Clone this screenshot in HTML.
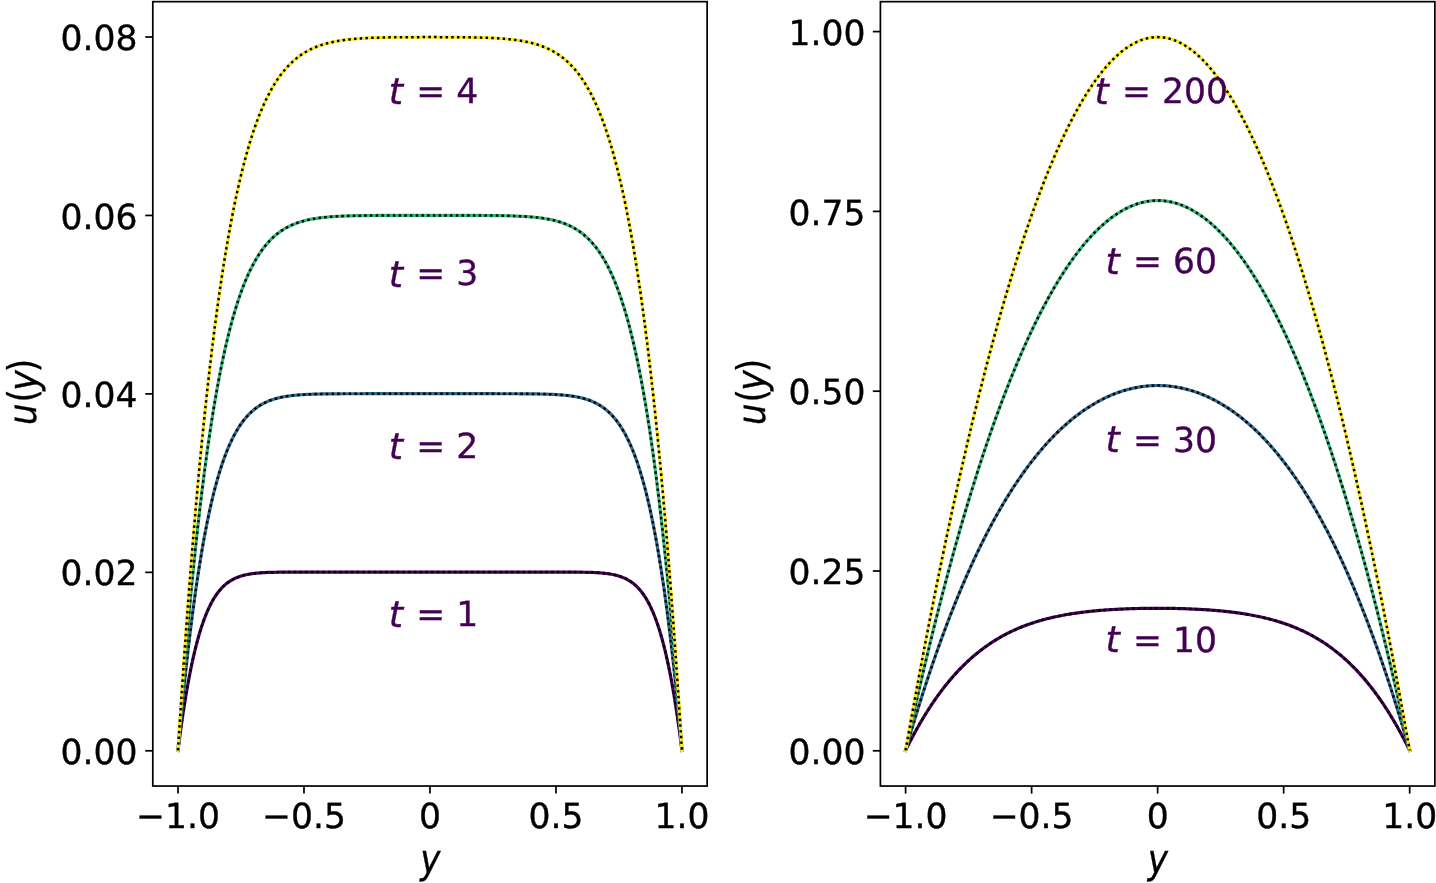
<!DOCTYPE html>
<html lang="en"><head><meta charset="utf-8"><title>u(y) velocity profiles</title>
<style>
html,body{margin:0;padding:0;background:#fff;}
body{width:1436px;height:883px;overflow:hidden;}
svg{display:block;}
text{text-rendering:geometricPrecision;stroke:#000;stroke-width:0.35px;font-family:"DejaVu Sans","Liberation Sans",sans-serif;fill:#000;}
.tk{font-size:34.55px;}
.lb{font-size:40.2px;}
.an{font-size:34.55px;fill:#440154;stroke:#440154;}
.it{font-style:italic;}
.tt{font-size:36.6px;}
</style></head><body>
<svg width="1436" height="883" viewBox="0 0 1436 883">
<rect width="1436" height="883" fill="#fff"/>
<g class="ax0">
<polyline points="178.00,750.39 179.26,740.55 180.52,731.14 181.78,722.15 183.04,713.57 184.30,705.39 185.56,697.59 186.82,690.16 188.08,683.09 189.34,676.37 190.60,669.98 191.86,663.91 193.12,658.16 194.38,652.70 195.64,647.54 196.90,642.64 198.16,638.02 199.42,633.65 200.68,629.52 201.94,625.63 203.20,621.96 204.46,618.50 205.72,615.25 206.98,612.20 208.24,609.33 209.49,606.63 210.75,604.11 212.01,601.74 213.27,599.53 214.53,597.45 215.79,595.52 217.05,593.71 218.31,592.03 219.57,590.46 220.83,589.00 222.09,587.64 223.35,586.38 224.61,585.20 225.87,584.12 227.13,583.11 228.39,582.18 229.65,581.32 230.91,580.52 232.17,579.79 233.43,579.11 234.69,578.48 235.95,577.91 237.21,577.38 238.47,576.90 239.73,576.45 240.99,576.04 242.25,575.67 243.51,575.33 244.77,575.02 246.03,574.73 247.29,574.47 248.55,574.23 249.81,574.02 251.07,573.82 252.33,573.64 253.59,573.48 254.85,573.34 256.11,573.20 257.37,573.08 258.63,572.98 259.89,572.88 261.15,572.79 262.41,572.71 263.67,572.64 264.93,572.57 266.19,572.52 267.45,572.46 268.71,572.42 269.97,572.38 271.23,572.34 272.49,572.31 273.75,572.28 275.01,572.25 276.27,572.23 277.53,572.21 278.79,572.19 280.05,572.17 281.31,572.16 282.57,572.14 283.83,572.13 285.09,572.12 286.35,572.11 287.61,572.11 288.87,572.10 290.13,572.09 291.39,572.09 292.65,572.08 293.91,572.08 295.17,572.07 296.43,572.07 297.69,572.07 298.95,572.07 300.21,572.06 301.47,572.06 302.73,572.06 303.99,572.06 305.25,572.06 306.51,572.06 307.77,572.06 309.03,572.06 310.29,572.06 311.55,572.05 312.81,572.05 314.07,572.05 315.33,572.05 316.59,572.05 317.85,572.05 319.11,572.05 320.36,572.05 321.62,572.05 322.88,572.05 324.14,572.05 325.40,572.05 326.66,572.05 327.92,572.05 329.18,572.05 330.44,572.05 331.70,572.05 332.96,572.05 334.22,572.05 335.48,572.05 336.74,572.05 338.00,572.05 339.26,572.05 340.52,572.05 341.78,572.05 343.04,572.05 344.30,572.05 345.56,572.05 346.82,572.05 348.08,572.05 349.34,572.05 350.60,572.05 351.86,572.05 353.12,572.05 354.38,572.05 355.64,572.05 356.90,572.05 358.16,572.05 359.42,572.05 360.68,572.05 361.94,572.05 363.20,572.05 364.46,572.05 365.72,572.05 366.98,572.05 368.24,572.05 369.50,572.05 370.76,572.05 372.02,572.05 373.28,572.05 374.54,572.05 375.80,572.05 377.06,572.05 378.32,572.05 379.58,572.05 380.84,572.05 382.10,572.05 383.36,572.05 384.62,572.05 385.88,572.05 387.14,572.05 388.40,572.05 389.66,572.05 390.92,572.05 392.18,572.05 393.44,572.05 394.70,572.05 395.96,572.05 397.22,572.05 398.48,572.05 399.74,572.05 401.00,572.05 402.26,572.05 403.52,572.05 404.78,572.05 406.04,572.05 407.30,572.05 408.56,572.05 409.82,572.05 411.08,572.05 412.34,572.05 413.60,572.05 414.86,572.05 416.12,572.05 417.38,572.05 418.64,572.05 419.90,572.05 421.16,572.05 422.42,572.05 423.68,572.05 424.94,572.05 426.20,572.05 427.46,572.05 428.72,572.05 429.97,572.05 431.23,572.05 432.49,572.05 433.75,572.05 435.01,572.05 436.27,572.05 437.53,572.05 438.79,572.05 440.05,572.05 441.31,572.05 442.57,572.05 443.83,572.05 445.09,572.05 446.35,572.05 447.61,572.05 448.87,572.05 450.13,572.05 451.39,572.05 452.65,572.05 453.91,572.05 455.17,572.05 456.43,572.05 457.69,572.05 458.95,572.05 460.21,572.05 461.47,572.05 462.73,572.05 463.99,572.05 465.25,572.05 466.51,572.05 467.77,572.05 469.03,572.05 470.29,572.05 471.55,572.05 472.81,572.05 474.07,572.05 475.33,572.05 476.59,572.05 477.85,572.05 479.11,572.05 480.37,572.05 481.63,572.05 482.89,572.05 484.15,572.05 485.41,572.05 486.67,572.05 487.93,572.05 489.19,572.05 490.45,572.05 491.71,572.05 492.97,572.05 494.23,572.05 495.49,572.05 496.75,572.05 498.01,572.05 499.27,572.05 500.53,572.05 501.79,572.05 503.05,572.05 504.31,572.05 505.57,572.05 506.83,572.05 508.09,572.05 509.35,572.05 510.61,572.05 511.87,572.05 513.13,572.05 514.39,572.05 515.65,572.05 516.91,572.05 518.17,572.05 519.43,572.05 520.69,572.05 521.95,572.05 523.21,572.05 524.47,572.05 525.73,572.05 526.99,572.05 528.25,572.05 529.51,572.05 530.77,572.05 532.03,572.05 533.29,572.05 534.55,572.05 535.81,572.05 537.07,572.05 538.33,572.05 539.59,572.05 540.84,572.05 542.10,572.05 543.36,572.05 544.62,572.05 545.88,572.05 547.14,572.05 548.40,572.05 549.66,572.06 550.92,572.06 552.18,572.06 553.44,572.06 554.70,572.06 555.96,572.06 557.22,572.06 558.48,572.06 559.74,572.06 561.00,572.07 562.26,572.07 563.52,572.07 564.78,572.07 566.04,572.08 567.30,572.08 568.56,572.09 569.82,572.09 571.08,572.10 572.34,572.11 573.60,572.11 574.86,572.12 576.12,572.13 577.38,572.14 578.64,572.16 579.90,572.17 581.16,572.19 582.42,572.21 583.68,572.23 584.94,572.25 586.20,572.28 587.46,572.31 588.72,572.34 589.98,572.38 591.24,572.42 592.50,572.46 593.76,572.52 595.02,572.57 596.28,572.64 597.54,572.71 598.80,572.79 600.06,572.88 601.32,572.98 602.58,573.08 603.84,573.20 605.10,573.34 606.36,573.48 607.62,573.64 608.88,573.82 610.14,574.02 611.40,574.23 612.66,574.47 613.92,574.73 615.18,575.02 616.44,575.33 617.70,575.67 618.96,576.04 620.22,576.45 621.48,576.90 622.74,577.38 624.00,577.91 625.26,578.48 626.52,579.11 627.78,579.79 629.04,580.52 630.30,581.32 631.56,582.18 632.82,583.11 634.08,584.12 635.34,585.20 636.60,586.38 637.86,587.64 639.12,589.00 640.38,590.46 641.64,592.03 642.90,593.71 644.16,595.52 645.42,597.45 646.68,599.53 647.94,601.74 649.20,604.11 650.46,606.63 651.71,609.33 652.97,612.20 654.23,615.25 655.49,618.50 656.75,621.96 658.01,625.63 659.27,629.52 660.53,633.65 661.79,638.02 663.05,642.64 664.31,647.54 665.57,652.70 666.83,658.16 668.09,663.91 669.35,669.98 670.61,676.37 671.87,683.09 673.13,690.16 674.39,697.59 675.65,705.39 676.91,713.57 678.17,722.15 679.43,731.14 680.69,740.55 681.95,750.39" fill="none" stroke="#440154" stroke-width="3.2" stroke-linecap="square" stroke-linejoin="round"/>
<polyline points="178.00,750.39 179.26,740.55 180.52,731.14 181.78,722.15 183.04,713.57 184.30,705.39 185.56,697.59 186.82,690.16 188.08,683.09 189.34,676.37 190.60,669.98 191.86,663.91 193.12,658.16 194.38,652.70 195.64,647.54 196.90,642.64 198.16,638.02 199.42,633.65 200.68,629.52 201.94,625.63 203.20,621.96 204.46,618.50 205.72,615.25 206.98,612.20 208.24,609.33 209.49,606.63 210.75,604.11 212.01,601.74 213.27,599.53 214.53,597.45 215.79,595.52 217.05,593.71 218.31,592.03 219.57,590.46 220.83,589.00 222.09,587.64 223.35,586.38 224.61,585.20 225.87,584.12 227.13,583.11 228.39,582.18 229.65,581.32 230.91,580.52 232.17,579.79 233.43,579.11 234.69,578.48 235.95,577.91 237.21,577.38 238.47,576.90 239.73,576.45 240.99,576.04 242.25,575.67 243.51,575.33 244.77,575.02 246.03,574.73 247.29,574.47 248.55,574.23 249.81,574.02 251.07,573.82 252.33,573.64 253.59,573.48 254.85,573.34 256.11,573.20 257.37,573.08 258.63,572.98 259.89,572.88 261.15,572.79 262.41,572.71 263.67,572.64 264.93,572.57 266.19,572.52 267.45,572.46 268.71,572.42 269.97,572.38 271.23,572.34 272.49,572.31 273.75,572.28 275.01,572.25 276.27,572.23 277.53,572.21 278.79,572.19 280.05,572.17 281.31,572.16 282.57,572.14 283.83,572.13 285.09,572.12 286.35,572.11 287.61,572.11 288.87,572.10 290.13,572.09 291.39,572.09 292.65,572.08 293.91,572.08 295.17,572.07 296.43,572.07 297.69,572.07 298.95,572.07 300.21,572.06 301.47,572.06 302.73,572.06 303.99,572.06 305.25,572.06 306.51,572.06 307.77,572.06 309.03,572.06 310.29,572.06 311.55,572.05 312.81,572.05 314.07,572.05 315.33,572.05 316.59,572.05 317.85,572.05 319.11,572.05 320.36,572.05 321.62,572.05 322.88,572.05 324.14,572.05 325.40,572.05 326.66,572.05 327.92,572.05 329.18,572.05 330.44,572.05 331.70,572.05 332.96,572.05 334.22,572.05 335.48,572.05 336.74,572.05 338.00,572.05 339.26,572.05 340.52,572.05 341.78,572.05 343.04,572.05 344.30,572.05 345.56,572.05 346.82,572.05 348.08,572.05 349.34,572.05 350.60,572.05 351.86,572.05 353.12,572.05 354.38,572.05 355.64,572.05 356.90,572.05 358.16,572.05 359.42,572.05 360.68,572.05 361.94,572.05 363.20,572.05 364.46,572.05 365.72,572.05 366.98,572.05 368.24,572.05 369.50,572.05 370.76,572.05 372.02,572.05 373.28,572.05 374.54,572.05 375.80,572.05 377.06,572.05 378.32,572.05 379.58,572.05 380.84,572.05 382.10,572.05 383.36,572.05 384.62,572.05 385.88,572.05 387.14,572.05 388.40,572.05 389.66,572.05 390.92,572.05 392.18,572.05 393.44,572.05 394.70,572.05 395.96,572.05 397.22,572.05 398.48,572.05 399.74,572.05 401.00,572.05 402.26,572.05 403.52,572.05 404.78,572.05 406.04,572.05 407.30,572.05 408.56,572.05 409.82,572.05 411.08,572.05 412.34,572.05 413.60,572.05 414.86,572.05 416.12,572.05 417.38,572.05 418.64,572.05 419.90,572.05 421.16,572.05 422.42,572.05 423.68,572.05 424.94,572.05 426.20,572.05 427.46,572.05 428.72,572.05 429.97,572.05 431.23,572.05 432.49,572.05 433.75,572.05 435.01,572.05 436.27,572.05 437.53,572.05 438.79,572.05 440.05,572.05 441.31,572.05 442.57,572.05 443.83,572.05 445.09,572.05 446.35,572.05 447.61,572.05 448.87,572.05 450.13,572.05 451.39,572.05 452.65,572.05 453.91,572.05 455.17,572.05 456.43,572.05 457.69,572.05 458.95,572.05 460.21,572.05 461.47,572.05 462.73,572.05 463.99,572.05 465.25,572.05 466.51,572.05 467.77,572.05 469.03,572.05 470.29,572.05 471.55,572.05 472.81,572.05 474.07,572.05 475.33,572.05 476.59,572.05 477.85,572.05 479.11,572.05 480.37,572.05 481.63,572.05 482.89,572.05 484.15,572.05 485.41,572.05 486.67,572.05 487.93,572.05 489.19,572.05 490.45,572.05 491.71,572.05 492.97,572.05 494.23,572.05 495.49,572.05 496.75,572.05 498.01,572.05 499.27,572.05 500.53,572.05 501.79,572.05 503.05,572.05 504.31,572.05 505.57,572.05 506.83,572.05 508.09,572.05 509.35,572.05 510.61,572.05 511.87,572.05 513.13,572.05 514.39,572.05 515.65,572.05 516.91,572.05 518.17,572.05 519.43,572.05 520.69,572.05 521.95,572.05 523.21,572.05 524.47,572.05 525.73,572.05 526.99,572.05 528.25,572.05 529.51,572.05 530.77,572.05 532.03,572.05 533.29,572.05 534.55,572.05 535.81,572.05 537.07,572.05 538.33,572.05 539.59,572.05 540.84,572.05 542.10,572.05 543.36,572.05 544.62,572.05 545.88,572.05 547.14,572.05 548.40,572.05 549.66,572.06 550.92,572.06 552.18,572.06 553.44,572.06 554.70,572.06 555.96,572.06 557.22,572.06 558.48,572.06 559.74,572.06 561.00,572.07 562.26,572.07 563.52,572.07 564.78,572.07 566.04,572.08 567.30,572.08 568.56,572.09 569.82,572.09 571.08,572.10 572.34,572.11 573.60,572.11 574.86,572.12 576.12,572.13 577.38,572.14 578.64,572.16 579.90,572.17 581.16,572.19 582.42,572.21 583.68,572.23 584.94,572.25 586.20,572.28 587.46,572.31 588.72,572.34 589.98,572.38 591.24,572.42 592.50,572.46 593.76,572.52 595.02,572.57 596.28,572.64 597.54,572.71 598.80,572.79 600.06,572.88 601.32,572.98 602.58,573.08 603.84,573.20 605.10,573.34 606.36,573.48 607.62,573.64 608.88,573.82 610.14,574.02 611.40,574.23 612.66,574.47 613.92,574.73 615.18,575.02 616.44,575.33 617.70,575.67 618.96,576.04 620.22,576.45 621.48,576.90 622.74,577.38 624.00,577.91 625.26,578.48 626.52,579.11 627.78,579.79 629.04,580.52 630.30,581.32 631.56,582.18 632.82,583.11 634.08,584.12 635.34,585.20 636.60,586.38 637.86,587.64 639.12,589.00 640.38,590.46 641.64,592.03 642.90,593.71 644.16,595.52 645.42,597.45 646.68,599.53 647.94,601.74 649.20,604.11 650.46,606.63 651.71,609.33 652.97,612.20 654.23,615.25 655.49,618.50 656.75,621.96 658.01,625.63 659.27,629.52 660.53,633.65 661.79,638.02 663.05,642.64 664.31,647.54 665.57,652.70 666.83,658.16 668.09,663.91 669.35,669.98 670.61,676.37 671.87,683.09 673.13,690.16 674.39,697.59 675.65,705.39 676.91,713.57 678.17,722.15 679.43,731.14 680.69,740.55 681.95,750.39" fill="none" stroke="#000" stroke-width="2.5" stroke-dasharray="2.450 3.271" stroke-dashoffset="0" stroke-linejoin="round"/>
<polyline points="178.00,750.39 179.26,736.38 180.52,722.81 181.78,709.67 183.04,696.94 184.30,684.63 185.56,672.72 186.82,661.20 188.08,650.06 189.34,639.30 190.60,628.91 191.86,618.87 193.12,609.19 194.38,599.84 195.64,590.83 196.90,582.14 198.16,573.76 199.42,565.70 200.68,557.93 201.94,550.45 203.20,543.26 204.46,536.34 205.72,529.69 206.98,523.30 208.24,517.16 209.49,511.26 210.75,505.61 212.01,500.18 213.27,494.97 214.53,489.98 215.79,485.20 217.05,480.62 218.31,476.24 219.57,472.05 220.83,468.04 222.09,464.20 223.35,460.54 224.61,457.03 225.87,453.69 227.13,450.50 228.39,447.46 229.65,444.56 230.91,441.79 232.17,439.16 233.43,436.65 234.69,434.26 235.95,431.99 237.21,429.83 238.47,427.78 239.73,425.82 240.99,423.97 242.25,422.22 243.51,420.55 244.77,418.97 246.03,417.47 247.29,416.05 248.55,414.70 249.81,413.43 251.07,412.23 252.33,411.09 253.59,410.01 254.85,409.00 256.11,408.04 257.37,407.13 258.63,406.28 259.89,405.47 261.15,404.72 262.41,404.00 263.67,403.33 264.93,402.70 266.19,402.10 267.45,401.54 268.71,401.02 269.97,400.52 271.23,400.06 272.49,399.63 273.75,399.22 275.01,398.84 276.27,398.48 277.53,398.14 278.79,397.83 280.05,397.54 281.31,397.26 282.57,397.01 283.83,396.77 285.09,396.55 286.35,396.34 287.61,396.14 288.87,395.96 290.13,395.80 291.39,395.64 292.65,395.49 293.91,395.36 295.17,395.23 296.43,395.12 297.69,395.01 298.95,394.91 300.21,394.81 301.47,394.73 302.73,394.65 303.99,394.57 305.25,394.50 306.51,394.44 307.77,394.38 309.03,394.33 310.29,394.28 311.55,394.23 312.81,394.19 314.07,394.15 315.33,394.11 316.59,394.08 317.85,394.05 319.11,394.02 320.36,393.99 321.62,393.97 322.88,393.95 324.14,393.93 325.40,393.91 326.66,393.89 327.92,393.88 329.18,393.86 330.44,393.85 331.70,393.84 332.96,393.82 334.22,393.81 335.48,393.81 336.74,393.80 338.00,393.79 339.26,393.78 340.52,393.78 341.78,393.77 343.04,393.77 344.30,393.76 345.56,393.76 346.82,393.75 348.08,393.75 349.34,393.75 350.60,393.74 351.86,393.74 353.12,393.74 354.38,393.74 355.64,393.73 356.90,393.73 358.16,393.73 359.42,393.73 360.68,393.73 361.94,393.73 363.20,393.73 364.46,393.72 365.72,393.72 366.98,393.72 368.24,393.72 369.50,393.72 370.76,393.72 372.02,393.72 373.28,393.72 374.54,393.72 375.80,393.72 377.06,393.72 378.32,393.72 379.58,393.72 380.84,393.72 382.10,393.72 383.36,393.72 384.62,393.72 385.88,393.72 387.14,393.72 388.40,393.72 389.66,393.72 390.92,393.72 392.18,393.72 393.44,393.72 394.70,393.72 395.96,393.72 397.22,393.72 398.48,393.72 399.74,393.72 401.00,393.72 402.26,393.72 403.52,393.72 404.78,393.72 406.04,393.72 407.30,393.72 408.56,393.72 409.82,393.72 411.08,393.72 412.34,393.72 413.60,393.72 414.86,393.72 416.12,393.72 417.38,393.72 418.64,393.72 419.90,393.72 421.16,393.72 422.42,393.72 423.68,393.72 424.94,393.72 426.20,393.72 427.46,393.72 428.72,393.72 429.97,393.72 431.23,393.72 432.49,393.72 433.75,393.72 435.01,393.72 436.27,393.72 437.53,393.72 438.79,393.72 440.05,393.72 441.31,393.72 442.57,393.72 443.83,393.72 445.09,393.72 446.35,393.72 447.61,393.72 448.87,393.72 450.13,393.72 451.39,393.72 452.65,393.72 453.91,393.72 455.17,393.72 456.43,393.72 457.69,393.72 458.95,393.72 460.21,393.72 461.47,393.72 462.73,393.72 463.99,393.72 465.25,393.72 466.51,393.72 467.77,393.72 469.03,393.72 470.29,393.72 471.55,393.72 472.81,393.72 474.07,393.72 475.33,393.72 476.59,393.72 477.85,393.72 479.11,393.72 480.37,393.72 481.63,393.72 482.89,393.72 484.15,393.72 485.41,393.72 486.67,393.72 487.93,393.72 489.19,393.72 490.45,393.72 491.71,393.72 492.97,393.72 494.23,393.72 495.49,393.72 496.75,393.73 498.01,393.73 499.27,393.73 500.53,393.73 501.79,393.73 503.05,393.73 504.31,393.73 505.57,393.74 506.83,393.74 508.09,393.74 509.35,393.74 510.61,393.75 511.87,393.75 513.13,393.75 514.39,393.76 515.65,393.76 516.91,393.77 518.17,393.77 519.43,393.78 520.69,393.78 521.95,393.79 523.21,393.80 524.47,393.81 525.73,393.81 526.99,393.82 528.25,393.84 529.51,393.85 530.77,393.86 532.03,393.88 533.29,393.89 534.55,393.91 535.81,393.93 537.07,393.95 538.33,393.97 539.59,393.99 540.84,394.02 542.10,394.05 543.36,394.08 544.62,394.11 545.88,394.15 547.14,394.19 548.40,394.23 549.66,394.28 550.92,394.33 552.18,394.38 553.44,394.44 554.70,394.50 555.96,394.57 557.22,394.65 558.48,394.73 559.74,394.81 561.00,394.91 562.26,395.01 563.52,395.12 564.78,395.23 566.04,395.36 567.30,395.49 568.56,395.64 569.82,395.80 571.08,395.96 572.34,396.14 573.60,396.34 574.86,396.55 576.12,396.77 577.38,397.01 578.64,397.26 579.90,397.54 581.16,397.83 582.42,398.14 583.68,398.48 584.94,398.84 586.20,399.22 587.46,399.63 588.72,400.06 589.98,400.52 591.24,401.02 592.50,401.54 593.76,402.10 595.02,402.70 596.28,403.33 597.54,404.00 598.80,404.72 600.06,405.47 601.32,406.28 602.58,407.13 603.84,408.04 605.10,409.00 606.36,410.01 607.62,411.09 608.88,412.23 610.14,413.43 611.40,414.70 612.66,416.05 613.92,417.47 615.18,418.97 616.44,420.55 617.70,422.22 618.96,423.97 620.22,425.82 621.48,427.78 622.74,429.83 624.00,431.99 625.26,434.26 626.52,436.65 627.78,439.16 629.04,441.79 630.30,444.56 631.56,447.46 632.82,450.50 634.08,453.69 635.34,457.03 636.60,460.54 637.86,464.20 639.12,468.04 640.38,472.05 641.64,476.24 642.90,480.62 644.16,485.20 645.42,489.98 646.68,494.97 647.94,500.18 649.20,505.61 650.46,511.26 651.71,517.16 652.97,523.30 654.23,529.69 655.49,536.34 656.75,543.26 658.01,550.45 659.27,557.93 660.53,565.70 661.79,573.76 663.05,582.14 664.31,590.83 665.57,599.84 666.83,609.19 668.09,618.87 669.35,628.91 670.61,639.30 671.87,650.06 673.13,661.20 674.39,672.72 675.65,684.63 676.91,696.94 678.17,709.67 679.43,722.81 680.69,736.38 681.95,750.39" fill="none" stroke="#31688e" stroke-width="3.2" stroke-linecap="square" stroke-linejoin="round"/>
<polyline points="178.00,750.39 179.26,736.38 180.52,722.81 181.78,709.67 183.04,696.94 184.30,684.63 185.56,672.72 186.82,661.20 188.08,650.06 189.34,639.30 190.60,628.91 191.86,618.87 193.12,609.19 194.38,599.84 195.64,590.83 196.90,582.14 198.16,573.76 199.42,565.70 200.68,557.93 201.94,550.45 203.20,543.26 204.46,536.34 205.72,529.69 206.98,523.30 208.24,517.16 209.49,511.26 210.75,505.61 212.01,500.18 213.27,494.97 214.53,489.98 215.79,485.20 217.05,480.62 218.31,476.24 219.57,472.05 220.83,468.04 222.09,464.20 223.35,460.54 224.61,457.03 225.87,453.69 227.13,450.50 228.39,447.46 229.65,444.56 230.91,441.79 232.17,439.16 233.43,436.65 234.69,434.26 235.95,431.99 237.21,429.83 238.47,427.78 239.73,425.82 240.99,423.97 242.25,422.22 243.51,420.55 244.77,418.97 246.03,417.47 247.29,416.05 248.55,414.70 249.81,413.43 251.07,412.23 252.33,411.09 253.59,410.01 254.85,409.00 256.11,408.04 257.37,407.13 258.63,406.28 259.89,405.47 261.15,404.72 262.41,404.00 263.67,403.33 264.93,402.70 266.19,402.10 267.45,401.54 268.71,401.02 269.97,400.52 271.23,400.06 272.49,399.63 273.75,399.22 275.01,398.84 276.27,398.48 277.53,398.14 278.79,397.83 280.05,397.54 281.31,397.26 282.57,397.01 283.83,396.77 285.09,396.55 286.35,396.34 287.61,396.14 288.87,395.96 290.13,395.80 291.39,395.64 292.65,395.49 293.91,395.36 295.17,395.23 296.43,395.12 297.69,395.01 298.95,394.91 300.21,394.81 301.47,394.73 302.73,394.65 303.99,394.57 305.25,394.50 306.51,394.44 307.77,394.38 309.03,394.33 310.29,394.28 311.55,394.23 312.81,394.19 314.07,394.15 315.33,394.11 316.59,394.08 317.85,394.05 319.11,394.02 320.36,393.99 321.62,393.97 322.88,393.95 324.14,393.93 325.40,393.91 326.66,393.89 327.92,393.88 329.18,393.86 330.44,393.85 331.70,393.84 332.96,393.82 334.22,393.81 335.48,393.81 336.74,393.80 338.00,393.79 339.26,393.78 340.52,393.78 341.78,393.77 343.04,393.77 344.30,393.76 345.56,393.76 346.82,393.75 348.08,393.75 349.34,393.75 350.60,393.74 351.86,393.74 353.12,393.74 354.38,393.74 355.64,393.73 356.90,393.73 358.16,393.73 359.42,393.73 360.68,393.73 361.94,393.73 363.20,393.73 364.46,393.72 365.72,393.72 366.98,393.72 368.24,393.72 369.50,393.72 370.76,393.72 372.02,393.72 373.28,393.72 374.54,393.72 375.80,393.72 377.06,393.72 378.32,393.72 379.58,393.72 380.84,393.72 382.10,393.72 383.36,393.72 384.62,393.72 385.88,393.72 387.14,393.72 388.40,393.72 389.66,393.72 390.92,393.72 392.18,393.72 393.44,393.72 394.70,393.72 395.96,393.72 397.22,393.72 398.48,393.72 399.74,393.72 401.00,393.72 402.26,393.72 403.52,393.72 404.78,393.72 406.04,393.72 407.30,393.72 408.56,393.72 409.82,393.72 411.08,393.72 412.34,393.72 413.60,393.72 414.86,393.72 416.12,393.72 417.38,393.72 418.64,393.72 419.90,393.72 421.16,393.72 422.42,393.72 423.68,393.72 424.94,393.72 426.20,393.72 427.46,393.72 428.72,393.72 429.97,393.72 431.23,393.72 432.49,393.72 433.75,393.72 435.01,393.72 436.27,393.72 437.53,393.72 438.79,393.72 440.05,393.72 441.31,393.72 442.57,393.72 443.83,393.72 445.09,393.72 446.35,393.72 447.61,393.72 448.87,393.72 450.13,393.72 451.39,393.72 452.65,393.72 453.91,393.72 455.17,393.72 456.43,393.72 457.69,393.72 458.95,393.72 460.21,393.72 461.47,393.72 462.73,393.72 463.99,393.72 465.25,393.72 466.51,393.72 467.77,393.72 469.03,393.72 470.29,393.72 471.55,393.72 472.81,393.72 474.07,393.72 475.33,393.72 476.59,393.72 477.85,393.72 479.11,393.72 480.37,393.72 481.63,393.72 482.89,393.72 484.15,393.72 485.41,393.72 486.67,393.72 487.93,393.72 489.19,393.72 490.45,393.72 491.71,393.72 492.97,393.72 494.23,393.72 495.49,393.72 496.75,393.73 498.01,393.73 499.27,393.73 500.53,393.73 501.79,393.73 503.05,393.73 504.31,393.73 505.57,393.74 506.83,393.74 508.09,393.74 509.35,393.74 510.61,393.75 511.87,393.75 513.13,393.75 514.39,393.76 515.65,393.76 516.91,393.77 518.17,393.77 519.43,393.78 520.69,393.78 521.95,393.79 523.21,393.80 524.47,393.81 525.73,393.81 526.99,393.82 528.25,393.84 529.51,393.85 530.77,393.86 532.03,393.88 533.29,393.89 534.55,393.91 535.81,393.93 537.07,393.95 538.33,393.97 539.59,393.99 540.84,394.02 542.10,394.05 543.36,394.08 544.62,394.11 545.88,394.15 547.14,394.19 548.40,394.23 549.66,394.28 550.92,394.33 552.18,394.38 553.44,394.44 554.70,394.50 555.96,394.57 557.22,394.65 558.48,394.73 559.74,394.81 561.00,394.91 562.26,395.01 563.52,395.12 564.78,395.23 566.04,395.36 567.30,395.49 568.56,395.64 569.82,395.80 571.08,395.96 572.34,396.14 573.60,396.34 574.86,396.55 576.12,396.77 577.38,397.01 578.64,397.26 579.90,397.54 581.16,397.83 582.42,398.14 583.68,398.48 584.94,398.84 586.20,399.22 587.46,399.63 588.72,400.06 589.98,400.52 591.24,401.02 592.50,401.54 593.76,402.10 595.02,402.70 596.28,403.33 597.54,404.00 598.80,404.72 600.06,405.47 601.32,406.28 602.58,407.13 603.84,408.04 605.10,409.00 606.36,410.01 607.62,411.09 608.88,412.23 610.14,413.43 611.40,414.70 612.66,416.05 613.92,417.47 615.18,418.97 616.44,420.55 617.70,422.22 618.96,423.97 620.22,425.82 621.48,427.78 622.74,429.83 624.00,431.99 625.26,434.26 626.52,436.65 627.78,439.16 629.04,441.79 630.30,444.56 631.56,447.46 632.82,450.50 634.08,453.69 635.34,457.03 636.60,460.54 637.86,464.20 639.12,468.04 640.38,472.05 641.64,476.24 642.90,480.62 644.16,485.20 645.42,489.98 646.68,494.97 647.94,500.18 649.20,505.61 650.46,511.26 651.71,517.16 652.97,523.30 654.23,529.69 655.49,536.34 656.75,543.26 658.01,550.45 659.27,557.93 660.53,565.70 661.79,573.76 663.05,582.14 664.31,590.83 665.57,599.84 666.83,609.19 668.09,618.87 669.35,628.91 670.61,639.30 671.87,650.06 673.13,661.20 674.39,672.72 675.65,684.63 676.91,696.94 678.17,709.67 679.43,722.81 680.69,736.38 681.95,750.39" fill="none" stroke="#000" stroke-width="2.5" stroke-dasharray="2.450 3.271" stroke-dashoffset="0" stroke-linejoin="round"/>
<polyline points="178.00,750.39 179.26,733.18 180.52,716.41 181.78,700.08 183.04,684.17 184.30,668.67 185.56,653.59 186.82,638.91 188.08,624.62 189.34,610.72 190.60,597.20 191.86,584.06 193.12,571.28 194.38,558.86 195.64,546.79 196.90,535.07 198.16,523.69 199.42,512.64 200.68,501.92 201.94,491.51 203.20,481.41 204.46,471.62 205.72,462.13 206.98,452.92 208.24,444.01 209.49,435.37 210.75,427.00 212.01,418.90 213.27,411.06 214.53,403.47 215.79,396.12 217.05,389.02 218.31,382.16 219.57,375.52 220.83,369.10 222.09,362.91 223.35,356.92 224.61,351.14 225.87,345.56 227.13,340.18 228.39,334.99 229.65,329.98 230.91,325.15 232.17,320.49 233.43,316.01 234.69,311.69 235.95,307.53 237.21,303.52 238.47,299.67 239.73,295.96 240.99,292.39 242.25,288.96 243.51,285.66 244.77,282.49 246.03,279.45 247.29,276.52 248.55,273.71 249.81,271.02 251.07,268.43 252.33,265.95 253.59,263.57 254.85,261.29 256.11,259.11 257.37,257.01 258.63,255.01 259.89,253.09 261.15,251.25 262.41,249.49 263.67,247.81 264.93,246.20 266.19,244.67 267.45,243.20 268.71,241.79 269.97,240.45 271.23,239.18 272.49,237.95 273.75,236.79 275.01,235.68 276.27,234.62 277.53,233.61 278.79,232.65 280.05,231.73 281.31,230.86 282.57,230.03 283.83,229.24 285.09,228.49 286.35,227.77 287.61,227.09 288.87,226.44 290.13,225.83 291.39,225.25 292.65,224.70 293.91,224.17 295.17,223.67 296.43,223.20 297.69,222.75 298.95,222.33 300.21,221.93 301.47,221.55 302.73,221.18 303.99,220.84 305.25,220.52 306.51,220.22 307.77,219.93 309.03,219.65 310.29,219.40 311.55,219.15 312.81,218.92 314.07,218.71 315.33,218.50 316.59,218.31 317.85,218.13 319.11,217.95 320.36,217.79 321.62,217.64 322.88,217.50 324.14,217.36 325.40,217.24 326.66,217.12 327.92,217.00 329.18,216.90 330.44,216.80 331.70,216.71 332.96,216.62 334.22,216.54 335.48,216.46 336.74,216.39 338.00,216.32 339.26,216.26 340.52,216.20 341.78,216.14 343.04,216.09 344.30,216.04 345.56,215.99 346.82,215.95 348.08,215.91 349.34,215.87 350.60,215.84 351.86,215.81 353.12,215.78 354.38,215.75 355.64,215.72 356.90,215.70 358.16,215.67 359.42,215.65 360.68,215.63 361.94,215.61 363.20,215.60 364.46,215.58 365.72,215.57 366.98,215.55 368.24,215.54 369.50,215.53 370.76,215.52 372.02,215.51 373.28,215.50 374.54,215.49 375.80,215.48 377.06,215.47 378.32,215.46 379.58,215.46 380.84,215.45 382.10,215.45 383.36,215.44 384.62,215.44 385.88,215.43 387.14,215.43 388.40,215.42 389.66,215.42 390.92,215.42 392.18,215.41 393.44,215.41 394.70,215.41 395.96,215.41 397.22,215.40 398.48,215.40 399.74,215.40 401.00,215.40 402.26,215.40 403.52,215.40 404.78,215.39 406.04,215.39 407.30,215.39 408.56,215.39 409.82,215.39 411.08,215.39 412.34,215.39 413.60,215.39 414.86,215.39 416.12,215.39 417.38,215.39 418.64,215.39 419.90,215.39 421.16,215.39 422.42,215.39 423.68,215.39 424.94,215.39 426.20,215.38 427.46,215.38 428.72,215.38 429.97,215.38 431.23,215.38 432.49,215.38 433.75,215.38 435.01,215.39 436.27,215.39 437.53,215.39 438.79,215.39 440.05,215.39 441.31,215.39 442.57,215.39 443.83,215.39 445.09,215.39 446.35,215.39 447.61,215.39 448.87,215.39 450.13,215.39 451.39,215.39 452.65,215.39 453.91,215.39 455.17,215.39 456.43,215.40 457.69,215.40 458.95,215.40 460.21,215.40 461.47,215.40 462.73,215.40 463.99,215.41 465.25,215.41 466.51,215.41 467.77,215.41 469.03,215.42 470.29,215.42 471.55,215.42 472.81,215.43 474.07,215.43 475.33,215.44 476.59,215.44 477.85,215.45 479.11,215.45 480.37,215.46 481.63,215.46 482.89,215.47 484.15,215.48 485.41,215.49 486.67,215.50 487.93,215.51 489.19,215.52 490.45,215.53 491.71,215.54 492.97,215.55 494.23,215.57 495.49,215.58 496.75,215.60 498.01,215.61 499.27,215.63 500.53,215.65 501.79,215.67 503.05,215.70 504.31,215.72 505.57,215.75 506.83,215.78 508.09,215.81 509.35,215.84 510.61,215.87 511.87,215.91 513.13,215.95 514.39,215.99 515.65,216.04 516.91,216.09 518.17,216.14 519.43,216.20 520.69,216.26 521.95,216.32 523.21,216.39 524.47,216.46 525.73,216.54 526.99,216.62 528.25,216.71 529.51,216.80 530.77,216.90 532.03,217.00 533.29,217.12 534.55,217.24 535.81,217.36 537.07,217.50 538.33,217.64 539.59,217.79 540.84,217.95 542.10,218.13 543.36,218.31 544.62,218.50 545.88,218.71 547.14,218.92 548.40,219.15 549.66,219.40 550.92,219.65 552.18,219.93 553.44,220.22 554.70,220.52 555.96,220.84 557.22,221.18 558.48,221.55 559.74,221.93 561.00,222.33 562.26,222.75 563.52,223.20 564.78,223.67 566.04,224.17 567.30,224.70 568.56,225.25 569.82,225.83 571.08,226.44 572.34,227.09 573.60,227.77 574.86,228.49 576.12,229.24 577.38,230.03 578.64,230.86 579.90,231.73 581.16,232.65 582.42,233.61 583.68,234.62 584.94,235.68 586.20,236.79 587.46,237.95 588.72,239.18 589.98,240.45 591.24,241.79 592.50,243.20 593.76,244.67 595.02,246.20 596.28,247.81 597.54,249.49 598.80,251.25 600.06,253.09 601.32,255.01 602.58,257.01 603.84,259.11 605.10,261.29 606.36,263.57 607.62,265.95 608.88,268.43 610.14,271.02 611.40,273.71 612.66,276.52 613.92,279.45 615.18,282.49 616.44,285.66 617.70,288.96 618.96,292.39 620.22,295.96 621.48,299.67 622.74,303.52 624.00,307.53 625.26,311.69 626.52,316.01 627.78,320.49 629.04,325.15 630.30,329.98 631.56,334.99 632.82,340.18 634.08,345.56 635.34,351.14 636.60,356.92 637.86,362.91 639.12,369.10 640.38,375.52 641.64,382.16 642.90,389.02 644.16,396.12 645.42,403.47 646.68,411.06 647.94,418.90 649.20,427.00 650.46,435.37 651.71,444.01 652.97,452.92 654.23,462.13 655.49,471.62 656.75,481.41 658.01,491.51 659.27,501.92 660.53,512.64 661.79,523.69 663.05,535.07 664.31,546.79 665.57,558.86 666.83,571.28 668.09,584.06 669.35,597.20 670.61,610.72 671.87,624.62 673.13,638.91 674.39,653.59 675.65,668.67 676.91,684.17 678.17,700.08 679.43,716.41 680.69,733.18 681.95,750.39" fill="none" stroke="#35b779" stroke-width="3.2" stroke-linecap="square" stroke-linejoin="round"/>
<polyline points="178.00,750.39 179.26,733.18 180.52,716.41 181.78,700.08 183.04,684.17 184.30,668.67 185.56,653.59 186.82,638.91 188.08,624.62 189.34,610.72 190.60,597.20 191.86,584.06 193.12,571.28 194.38,558.86 195.64,546.79 196.90,535.07 198.16,523.69 199.42,512.64 200.68,501.92 201.94,491.51 203.20,481.41 204.46,471.62 205.72,462.13 206.98,452.92 208.24,444.01 209.49,435.37 210.75,427.00 212.01,418.90 213.27,411.06 214.53,403.47 215.79,396.12 217.05,389.02 218.31,382.16 219.57,375.52 220.83,369.10 222.09,362.91 223.35,356.92 224.61,351.14 225.87,345.56 227.13,340.18 228.39,334.99 229.65,329.98 230.91,325.15 232.17,320.49 233.43,316.01 234.69,311.69 235.95,307.53 237.21,303.52 238.47,299.67 239.73,295.96 240.99,292.39 242.25,288.96 243.51,285.66 244.77,282.49 246.03,279.45 247.29,276.52 248.55,273.71 249.81,271.02 251.07,268.43 252.33,265.95 253.59,263.57 254.85,261.29 256.11,259.11 257.37,257.01 258.63,255.01 259.89,253.09 261.15,251.25 262.41,249.49 263.67,247.81 264.93,246.20 266.19,244.67 267.45,243.20 268.71,241.79 269.97,240.45 271.23,239.18 272.49,237.95 273.75,236.79 275.01,235.68 276.27,234.62 277.53,233.61 278.79,232.65 280.05,231.73 281.31,230.86 282.57,230.03 283.83,229.24 285.09,228.49 286.35,227.77 287.61,227.09 288.87,226.44 290.13,225.83 291.39,225.25 292.65,224.70 293.91,224.17 295.17,223.67 296.43,223.20 297.69,222.75 298.95,222.33 300.21,221.93 301.47,221.55 302.73,221.18 303.99,220.84 305.25,220.52 306.51,220.22 307.77,219.93 309.03,219.65 310.29,219.40 311.55,219.15 312.81,218.92 314.07,218.71 315.33,218.50 316.59,218.31 317.85,218.13 319.11,217.95 320.36,217.79 321.62,217.64 322.88,217.50 324.14,217.36 325.40,217.24 326.66,217.12 327.92,217.00 329.18,216.90 330.44,216.80 331.70,216.71 332.96,216.62 334.22,216.54 335.48,216.46 336.74,216.39 338.00,216.32 339.26,216.26 340.52,216.20 341.78,216.14 343.04,216.09 344.30,216.04 345.56,215.99 346.82,215.95 348.08,215.91 349.34,215.87 350.60,215.84 351.86,215.81 353.12,215.78 354.38,215.75 355.64,215.72 356.90,215.70 358.16,215.67 359.42,215.65 360.68,215.63 361.94,215.61 363.20,215.60 364.46,215.58 365.72,215.57 366.98,215.55 368.24,215.54 369.50,215.53 370.76,215.52 372.02,215.51 373.28,215.50 374.54,215.49 375.80,215.48 377.06,215.47 378.32,215.46 379.58,215.46 380.84,215.45 382.10,215.45 383.36,215.44 384.62,215.44 385.88,215.43 387.14,215.43 388.40,215.42 389.66,215.42 390.92,215.42 392.18,215.41 393.44,215.41 394.70,215.41 395.96,215.41 397.22,215.40 398.48,215.40 399.74,215.40 401.00,215.40 402.26,215.40 403.52,215.40 404.78,215.39 406.04,215.39 407.30,215.39 408.56,215.39 409.82,215.39 411.08,215.39 412.34,215.39 413.60,215.39 414.86,215.39 416.12,215.39 417.38,215.39 418.64,215.39 419.90,215.39 421.16,215.39 422.42,215.39 423.68,215.39 424.94,215.39 426.20,215.38 427.46,215.38 428.72,215.38 429.97,215.38 431.23,215.38 432.49,215.38 433.75,215.38 435.01,215.39 436.27,215.39 437.53,215.39 438.79,215.39 440.05,215.39 441.31,215.39 442.57,215.39 443.83,215.39 445.09,215.39 446.35,215.39 447.61,215.39 448.87,215.39 450.13,215.39 451.39,215.39 452.65,215.39 453.91,215.39 455.17,215.39 456.43,215.40 457.69,215.40 458.95,215.40 460.21,215.40 461.47,215.40 462.73,215.40 463.99,215.41 465.25,215.41 466.51,215.41 467.77,215.41 469.03,215.42 470.29,215.42 471.55,215.42 472.81,215.43 474.07,215.43 475.33,215.44 476.59,215.44 477.85,215.45 479.11,215.45 480.37,215.46 481.63,215.46 482.89,215.47 484.15,215.48 485.41,215.49 486.67,215.50 487.93,215.51 489.19,215.52 490.45,215.53 491.71,215.54 492.97,215.55 494.23,215.57 495.49,215.58 496.75,215.60 498.01,215.61 499.27,215.63 500.53,215.65 501.79,215.67 503.05,215.70 504.31,215.72 505.57,215.75 506.83,215.78 508.09,215.81 509.35,215.84 510.61,215.87 511.87,215.91 513.13,215.95 514.39,215.99 515.65,216.04 516.91,216.09 518.17,216.14 519.43,216.20 520.69,216.26 521.95,216.32 523.21,216.39 524.47,216.46 525.73,216.54 526.99,216.62 528.25,216.71 529.51,216.80 530.77,216.90 532.03,217.00 533.29,217.12 534.55,217.24 535.81,217.36 537.07,217.50 538.33,217.64 539.59,217.79 540.84,217.95 542.10,218.13 543.36,218.31 544.62,218.50 545.88,218.71 547.14,218.92 548.40,219.15 549.66,219.40 550.92,219.65 552.18,219.93 553.44,220.22 554.70,220.52 555.96,220.84 557.22,221.18 558.48,221.55 559.74,221.93 561.00,222.33 562.26,222.75 563.52,223.20 564.78,223.67 566.04,224.17 567.30,224.70 568.56,225.25 569.82,225.83 571.08,226.44 572.34,227.09 573.60,227.77 574.86,228.49 576.12,229.24 577.38,230.03 578.64,230.86 579.90,231.73 581.16,232.65 582.42,233.61 583.68,234.62 584.94,235.68 586.20,236.79 587.46,237.95 588.72,239.18 589.98,240.45 591.24,241.79 592.50,243.20 593.76,244.67 595.02,246.20 596.28,247.81 597.54,249.49 598.80,251.25 600.06,253.09 601.32,255.01 602.58,257.01 603.84,259.11 605.10,261.29 606.36,263.57 607.62,265.95 608.88,268.43 610.14,271.02 611.40,273.71 612.66,276.52 613.92,279.45 615.18,282.49 616.44,285.66 617.70,288.96 618.96,292.39 620.22,295.96 621.48,299.67 622.74,303.52 624.00,307.53 625.26,311.69 626.52,316.01 627.78,320.49 629.04,325.15 630.30,329.98 631.56,334.99 632.82,340.18 634.08,345.56 635.34,351.14 636.60,356.92 637.86,362.91 639.12,369.10 640.38,375.52 641.64,382.16 642.90,389.02 644.16,396.12 645.42,403.47 646.68,411.06 647.94,418.90 649.20,427.00 650.46,435.37 651.71,444.01 652.97,452.92 654.23,462.13 655.49,471.62 656.75,481.41 658.01,491.51 659.27,501.92 660.53,512.64 661.79,523.69 663.05,535.07 664.31,546.79 665.57,558.86 666.83,571.28 668.09,584.06 669.35,597.20 670.61,610.72 671.87,624.62 673.13,638.91 674.39,653.59 675.65,668.67 676.91,684.17 678.17,700.08 679.43,716.41 680.69,733.18 681.95,750.39" fill="none" stroke="#000" stroke-width="2.5" stroke-dasharray="2.450 3.271" stroke-dashoffset="0" stroke-linejoin="round"/>
<polyline points="178.00,750.39 179.26,730.49 180.52,711.02 181.78,692.00 183.04,673.39 184.30,655.21 185.56,637.45 186.82,620.09 188.08,603.13 189.34,586.57 190.60,570.40 191.86,554.61 193.12,539.20 194.38,524.16 195.64,509.49 196.90,495.17 198.16,481.21 199.42,467.59 200.68,454.32 201.94,441.37 203.20,428.76 204.46,416.47 205.72,404.50 206.98,392.83 208.24,381.48 209.49,370.42 210.75,359.65 212.01,349.18 213.27,338.98 214.53,329.06 215.79,319.42 217.05,310.03 218.31,300.91 219.57,292.05 220.83,283.43 222.09,275.06 223.35,266.93 224.61,259.03 225.87,251.36 227.13,243.91 228.39,236.68 229.65,229.67 230.91,222.86 232.17,216.26 233.43,209.86 234.69,203.65 235.95,197.63 237.21,191.80 238.47,186.15 239.73,180.67 240.99,175.37 242.25,170.24 243.51,165.27 244.77,160.46 246.03,155.80 247.29,151.30 248.55,146.94 249.81,142.73 251.07,138.66 252.33,134.72 253.59,130.92 254.85,127.24 256.11,123.69 257.37,120.26 258.63,116.95 259.89,113.76 261.15,110.68 262.41,107.70 263.67,104.83 264.93,102.06 266.19,99.40 267.45,96.83 268.71,94.35 269.97,91.96 271.23,89.66 272.49,87.44 273.75,85.31 275.01,83.26 276.27,81.28 277.53,79.38 278.79,77.56 280.05,75.80 281.31,74.11 282.57,72.48 283.83,70.92 285.09,69.42 286.35,67.98 287.61,66.60 288.87,65.27 290.13,64.00 291.39,62.78 292.65,61.60 293.91,60.48 295.17,59.40 296.43,58.37 297.69,57.37 298.95,56.43 300.21,55.52 301.47,54.65 302.73,53.81 303.99,53.01 305.25,52.25 306.51,51.52 307.77,50.82 309.03,50.15 310.29,49.51 311.55,48.90 312.81,48.32 314.07,47.76 315.33,47.23 316.59,46.72 317.85,46.24 319.11,45.78 320.36,45.33 321.62,44.91 322.88,44.51 324.14,44.13 325.40,43.76 326.66,43.42 327.92,43.09 329.18,42.77 330.44,42.47 331.70,42.18 332.96,41.91 334.22,41.65 335.48,41.41 336.74,41.17 338.00,40.95 339.26,40.74 340.52,40.54 341.78,40.35 343.04,40.17 344.30,40.00 345.56,39.83 346.82,39.68 348.08,39.53 349.34,39.39 350.60,39.26 351.86,39.14 353.12,39.02 354.38,38.91 355.64,38.80 356.90,38.70 358.16,38.60 359.42,38.51 360.68,38.43 361.94,38.35 363.20,38.27 364.46,38.20 365.72,38.13 366.98,38.07 368.24,38.01 369.50,37.95 370.76,37.89 372.02,37.84 373.28,37.80 374.54,37.75 375.80,37.71 377.06,37.67 378.32,37.63 379.58,37.59 380.84,37.56 382.10,37.53 383.36,37.50 384.62,37.47 385.88,37.44 387.14,37.42 388.40,37.39 389.66,37.37 390.92,37.35 392.18,37.33 393.44,37.31 394.70,37.30 395.96,37.28 397.22,37.27 398.48,37.25 399.74,37.24 401.00,37.23 402.26,37.22 403.52,37.21 404.78,37.20 406.04,37.19 407.30,37.18 408.56,37.17 409.82,37.16 411.08,37.16 412.34,37.15 413.60,37.15 414.86,37.14 416.12,37.14 417.38,37.13 418.64,37.13 419.90,37.13 421.16,37.12 422.42,37.12 423.68,37.12 424.94,37.12 426.20,37.12 427.46,37.11 428.72,37.11 429.97,37.11 431.23,37.11 432.49,37.11 433.75,37.12 435.01,37.12 436.27,37.12 437.53,37.12 438.79,37.12 440.05,37.13 441.31,37.13 442.57,37.13 443.83,37.14 445.09,37.14 446.35,37.15 447.61,37.15 448.87,37.16 450.13,37.16 451.39,37.17 452.65,37.18 453.91,37.19 455.17,37.20 456.43,37.21 457.69,37.22 458.95,37.23 460.21,37.24 461.47,37.25 462.73,37.27 463.99,37.28 465.25,37.30 466.51,37.31 467.77,37.33 469.03,37.35 470.29,37.37 471.55,37.39 472.81,37.42 474.07,37.44 475.33,37.47 476.59,37.50 477.85,37.53 479.11,37.56 480.37,37.59 481.63,37.63 482.89,37.67 484.15,37.71 485.41,37.75 486.67,37.80 487.93,37.84 489.19,37.89 490.45,37.95 491.71,38.01 492.97,38.07 494.23,38.13 495.49,38.20 496.75,38.27 498.01,38.35 499.27,38.43 500.53,38.51 501.79,38.60 503.05,38.70 504.31,38.80 505.57,38.91 506.83,39.02 508.09,39.14 509.35,39.26 510.61,39.39 511.87,39.53 513.13,39.68 514.39,39.83 515.65,40.00 516.91,40.17 518.17,40.35 519.43,40.54 520.69,40.74 521.95,40.95 523.21,41.17 524.47,41.41 525.73,41.65 526.99,41.91 528.25,42.18 529.51,42.47 530.77,42.77 532.03,43.09 533.29,43.42 534.55,43.76 535.81,44.13 537.07,44.51 538.33,44.91 539.59,45.33 540.84,45.78 542.10,46.24 543.36,46.72 544.62,47.23 545.88,47.76 547.14,48.32 548.40,48.90 549.66,49.51 550.92,50.15 552.18,50.82 553.44,51.52 554.70,52.25 555.96,53.01 557.22,53.81 558.48,54.65 559.74,55.52 561.00,56.43 562.26,57.37 563.52,58.37 564.78,59.40 566.04,60.48 567.30,61.60 568.56,62.78 569.82,64.00 571.08,65.27 572.34,66.60 573.60,67.98 574.86,69.42 576.12,70.92 577.38,72.48 578.64,74.11 579.90,75.80 581.16,77.56 582.42,79.38 583.68,81.28 584.94,83.26 586.20,85.31 587.46,87.44 588.72,89.66 589.98,91.96 591.24,94.35 592.50,96.83 593.76,99.40 595.02,102.06 596.28,104.83 597.54,107.70 598.80,110.68 600.06,113.76 601.32,116.95 602.58,120.26 603.84,123.69 605.10,127.24 606.36,130.92 607.62,134.72 608.88,138.66 610.14,142.73 611.40,146.94 612.66,151.30 613.92,155.80 615.18,160.46 616.44,165.27 617.70,170.24 618.96,175.37 620.22,180.67 621.48,186.15 622.74,191.80 624.00,197.63 625.26,203.65 626.52,209.86 627.78,216.26 629.04,222.86 630.30,229.67 631.56,236.68 632.82,243.91 634.08,251.36 635.34,259.03 636.60,266.93 637.86,275.06 639.12,283.43 640.38,292.05 641.64,300.91 642.90,310.03 644.16,319.42 645.42,329.06 646.68,338.98 647.94,349.18 649.20,359.65 650.46,370.42 651.71,381.48 652.97,392.83 654.23,404.50 655.49,416.47 656.75,428.76 658.01,441.37 659.27,454.32 660.53,467.59 661.79,481.21 663.05,495.17 664.31,509.49 665.57,524.16 666.83,539.20 668.09,554.61 669.35,570.40 670.61,586.57 671.87,603.13 673.13,620.09 674.39,637.45 675.65,655.21 676.91,673.39 678.17,692.00 679.43,711.02 680.69,730.49 681.95,750.39" fill="none" stroke="#fde725" stroke-width="3.2" stroke-linecap="square" stroke-linejoin="round"/>
<polyline points="178.00,750.39 179.26,730.49 180.52,711.02 181.78,692.00 183.04,673.39 184.30,655.21 185.56,637.45 186.82,620.09 188.08,603.13 189.34,586.57 190.60,570.40 191.86,554.61 193.12,539.20 194.38,524.16 195.64,509.49 196.90,495.17 198.16,481.21 199.42,467.59 200.68,454.32 201.94,441.37 203.20,428.76 204.46,416.47 205.72,404.50 206.98,392.83 208.24,381.48 209.49,370.42 210.75,359.65 212.01,349.18 213.27,338.98 214.53,329.06 215.79,319.42 217.05,310.03 218.31,300.91 219.57,292.05 220.83,283.43 222.09,275.06 223.35,266.93 224.61,259.03 225.87,251.36 227.13,243.91 228.39,236.68 229.65,229.67 230.91,222.86 232.17,216.26 233.43,209.86 234.69,203.65 235.95,197.63 237.21,191.80 238.47,186.15 239.73,180.67 240.99,175.37 242.25,170.24 243.51,165.27 244.77,160.46 246.03,155.80 247.29,151.30 248.55,146.94 249.81,142.73 251.07,138.66 252.33,134.72 253.59,130.92 254.85,127.24 256.11,123.69 257.37,120.26 258.63,116.95 259.89,113.76 261.15,110.68 262.41,107.70 263.67,104.83 264.93,102.06 266.19,99.40 267.45,96.83 268.71,94.35 269.97,91.96 271.23,89.66 272.49,87.44 273.75,85.31 275.01,83.26 276.27,81.28 277.53,79.38 278.79,77.56 280.05,75.80 281.31,74.11 282.57,72.48 283.83,70.92 285.09,69.42 286.35,67.98 287.61,66.60 288.87,65.27 290.13,64.00 291.39,62.78 292.65,61.60 293.91,60.48 295.17,59.40 296.43,58.37 297.69,57.37 298.95,56.43 300.21,55.52 301.47,54.65 302.73,53.81 303.99,53.01 305.25,52.25 306.51,51.52 307.77,50.82 309.03,50.15 310.29,49.51 311.55,48.90 312.81,48.32 314.07,47.76 315.33,47.23 316.59,46.72 317.85,46.24 319.11,45.78 320.36,45.33 321.62,44.91 322.88,44.51 324.14,44.13 325.40,43.76 326.66,43.42 327.92,43.09 329.18,42.77 330.44,42.47 331.70,42.18 332.96,41.91 334.22,41.65 335.48,41.41 336.74,41.17 338.00,40.95 339.26,40.74 340.52,40.54 341.78,40.35 343.04,40.17 344.30,40.00 345.56,39.83 346.82,39.68 348.08,39.53 349.34,39.39 350.60,39.26 351.86,39.14 353.12,39.02 354.38,38.91 355.64,38.80 356.90,38.70 358.16,38.60 359.42,38.51 360.68,38.43 361.94,38.35 363.20,38.27 364.46,38.20 365.72,38.13 366.98,38.07 368.24,38.01 369.50,37.95 370.76,37.89 372.02,37.84 373.28,37.80 374.54,37.75 375.80,37.71 377.06,37.67 378.32,37.63 379.58,37.59 380.84,37.56 382.10,37.53 383.36,37.50 384.62,37.47 385.88,37.44 387.14,37.42 388.40,37.39 389.66,37.37 390.92,37.35 392.18,37.33 393.44,37.31 394.70,37.30 395.96,37.28 397.22,37.27 398.48,37.25 399.74,37.24 401.00,37.23 402.26,37.22 403.52,37.21 404.78,37.20 406.04,37.19 407.30,37.18 408.56,37.17 409.82,37.16 411.08,37.16 412.34,37.15 413.60,37.15 414.86,37.14 416.12,37.14 417.38,37.13 418.64,37.13 419.90,37.13 421.16,37.12 422.42,37.12 423.68,37.12 424.94,37.12 426.20,37.12 427.46,37.11 428.72,37.11 429.97,37.11 431.23,37.11 432.49,37.11 433.75,37.12 435.01,37.12 436.27,37.12 437.53,37.12 438.79,37.12 440.05,37.13 441.31,37.13 442.57,37.13 443.83,37.14 445.09,37.14 446.35,37.15 447.61,37.15 448.87,37.16 450.13,37.16 451.39,37.17 452.65,37.18 453.91,37.19 455.17,37.20 456.43,37.21 457.69,37.22 458.95,37.23 460.21,37.24 461.47,37.25 462.73,37.27 463.99,37.28 465.25,37.30 466.51,37.31 467.77,37.33 469.03,37.35 470.29,37.37 471.55,37.39 472.81,37.42 474.07,37.44 475.33,37.47 476.59,37.50 477.85,37.53 479.11,37.56 480.37,37.59 481.63,37.63 482.89,37.67 484.15,37.71 485.41,37.75 486.67,37.80 487.93,37.84 489.19,37.89 490.45,37.95 491.71,38.01 492.97,38.07 494.23,38.13 495.49,38.20 496.75,38.27 498.01,38.35 499.27,38.43 500.53,38.51 501.79,38.60 503.05,38.70 504.31,38.80 505.57,38.91 506.83,39.02 508.09,39.14 509.35,39.26 510.61,39.39 511.87,39.53 513.13,39.68 514.39,39.83 515.65,40.00 516.91,40.17 518.17,40.35 519.43,40.54 520.69,40.74 521.95,40.95 523.21,41.17 524.47,41.41 525.73,41.65 526.99,41.91 528.25,42.18 529.51,42.47 530.77,42.77 532.03,43.09 533.29,43.42 534.55,43.76 535.81,44.13 537.07,44.51 538.33,44.91 539.59,45.33 540.84,45.78 542.10,46.24 543.36,46.72 544.62,47.23 545.88,47.76 547.14,48.32 548.40,48.90 549.66,49.51 550.92,50.15 552.18,50.82 553.44,51.52 554.70,52.25 555.96,53.01 557.22,53.81 558.48,54.65 559.74,55.52 561.00,56.43 562.26,57.37 563.52,58.37 564.78,59.40 566.04,60.48 567.30,61.60 568.56,62.78 569.82,64.00 571.08,65.27 572.34,66.60 573.60,67.98 574.86,69.42 576.12,70.92 577.38,72.48 578.64,74.11 579.90,75.80 581.16,77.56 582.42,79.38 583.68,81.28 584.94,83.26 586.20,85.31 587.46,87.44 588.72,89.66 589.98,91.96 591.24,94.35 592.50,96.83 593.76,99.40 595.02,102.06 596.28,104.83 597.54,107.70 598.80,110.68 600.06,113.76 601.32,116.95 602.58,120.26 603.84,123.69 605.10,127.24 606.36,130.92 607.62,134.72 608.88,138.66 610.14,142.73 611.40,146.94 612.66,151.30 613.92,155.80 615.18,160.46 616.44,165.27 617.70,170.24 618.96,175.37 620.22,180.67 621.48,186.15 622.74,191.80 624.00,197.63 625.26,203.65 626.52,209.86 627.78,216.26 629.04,222.86 630.30,229.67 631.56,236.68 632.82,243.91 634.08,251.36 635.34,259.03 636.60,266.93 637.86,275.06 639.12,283.43 640.38,292.05 641.64,300.91 642.90,310.03 644.16,319.42 645.42,329.06 646.68,338.98 647.94,349.18 649.20,359.65 650.46,370.42 651.71,381.48 652.97,392.83 654.23,404.50 655.49,416.47 656.75,428.76 658.01,441.37 659.27,454.32 660.53,467.59 661.79,481.21 663.05,495.17 664.31,509.49 665.57,524.16 666.83,539.20 668.09,554.61 669.35,570.40 670.61,586.57 671.87,603.13 673.13,620.09 674.39,637.45 675.65,655.21 676.91,673.39 678.17,692.00 679.43,711.02 680.69,730.49 681.95,750.39" fill="none" stroke="#000" stroke-width="2.5" stroke-dasharray="2.450 3.271" stroke-dashoffset="0" stroke-linejoin="round"/>
<rect x="152.8" y="1.67" width="554.35" height="784.37" fill="none" stroke="#000" stroke-width="1.72"/>
<line x1="178.0" x2="178.0" y1="786.04" y2="793.59" stroke="#000" stroke-width="1.72"/>
<text x="178.0" y="827.8" text-anchor="middle" class="tk">−1.0</text>
<line x1="303.99" x2="303.99" y1="786.04" y2="793.59" stroke="#000" stroke-width="1.72"/>
<text x="303.99" y="827.8" text-anchor="middle" class="tk">−0.5</text>
<line x1="429.97" x2="429.97" y1="786.04" y2="793.59" stroke="#000" stroke-width="1.72"/>
<text x="429.97" y="827.8" text-anchor="middle" class="tk">0</text>
<line x1="555.96" x2="555.96" y1="786.04" y2="793.59" stroke="#000" stroke-width="1.72"/>
<text x="555.96" y="827.8" text-anchor="middle" class="tk">0.5</text>
<line x1="681.95" x2="681.95" y1="786.04" y2="793.59" stroke="#000" stroke-width="1.72"/>
<text x="681.95" y="827.8" text-anchor="middle" class="tk">1.0</text>
<line x1="145.25" x2="152.8" y1="750.8" y2="750.8" stroke="#000" stroke-width="1.72"/>
<text x="137.40" y="763.90" text-anchor="end" class="tk">0.00</text>
<line x1="145.25" x2="152.8" y1="572.35" y2="572.35" stroke="#000" stroke-width="1.72"/>
<text x="137.40" y="585.45" text-anchor="end" class="tk">0.02</text>
<line x1="145.25" x2="152.8" y1="393.9" y2="393.9" stroke="#000" stroke-width="1.72"/>
<text x="137.40" y="407.00" text-anchor="end" class="tk">0.04</text>
<line x1="145.25" x2="152.8" y1="215.45" y2="215.45" stroke="#000" stroke-width="1.72"/>
<text x="137.40" y="228.55" text-anchor="end" class="tk">0.06</text>
<line x1="145.25" x2="152.8" y1="37.0" y2="37.0" stroke="#000" stroke-width="1.72"/>
<text x="137.40" y="50.10" text-anchor="end" class="tk">0.08</text>
<text transform="translate(420.15,872.6) scale(0.845,1)" class="lb it" style="font-size:40.4px">y</text>
<text transform="translate(36.60,424) rotate(-90) scale(0.87,1)" class="lb"><tspan class="it" x="-1.15" dy="-0.20" style="font-size:38.8px">u</tspan><tspan class="" x="24.77" dy="-0.10" style="font-size:39.5px">(</tspan><tspan class="it" x="38.16" dy="0.30" style="font-size:40.2px">y</tspan><tspan class="" x="59.37" dy="-0.30" style="font-size:39.5px">)</tspan></text>
<text y="626.0" class="an"><tspan class="it tt" x="388.79" dy="0.7">t</tspan><tspan x="405.38" dy="-0.7"> = 1</tspan></text>
<text y="458.3" class="an"><tspan class="it tt" x="388.79" dy="0.7">t</tspan><tspan x="405.38" dy="-0.7"> = 2</tspan></text>
<text y="285.1" class="an"><tspan class="it tt" x="388.79" dy="1.7">t</tspan><tspan x="405.38" dy="-1.7"> = 3</tspan></text>
<text y="103.2" class="an"><tspan class="it tt" x="388.79" dy="0.7">t</tspan><tspan x="405.38" dy="-0.7"> = 4</tspan></text>
</g>
<g class="ax1">
<polyline points="905.60,750.39 906.86,747.84 908.12,745.33 909.38,742.85 910.64,740.41 911.90,738.01 913.16,735.64 914.42,733.30 915.68,731.00 916.94,728.73 918.20,726.49 919.46,724.28 920.73,722.11 921.99,719.97 923.25,717.86 924.51,715.79 925.77,713.74 927.03,711.73 928.29,709.74 929.55,707.79 930.81,705.86 932.07,703.97 933.33,702.10 934.59,700.27 935.85,698.46 937.11,696.68 938.37,694.93 939.63,693.20 940.89,691.51 942.15,689.84 943.41,688.20 944.67,686.58 945.93,684.99 947.19,683.43 948.45,681.89 949.71,680.38 950.97,678.89 952.23,677.42 953.49,675.99 954.75,674.57 956.01,673.18 957.27,671.81 958.53,670.47 959.79,669.15 961.05,667.85 962.31,666.57 963.57,665.32 964.83,664.09 966.09,662.87 967.35,661.69 968.61,660.52 969.87,659.37 971.13,658.24 972.39,657.13 973.65,656.05 974.91,654.98 976.17,653.93 977.43,652.90 978.69,651.89 979.95,650.90 981.21,649.93 982.47,648.97 983.73,648.03 984.99,647.11 986.25,646.21 987.51,645.32 988.77,644.45 990.03,643.60 991.29,642.77 992.55,641.95 993.81,641.14 995.07,640.35 996.33,639.58 997.59,638.82 998.85,638.08 1000.12,637.35 1001.38,636.64 1002.64,635.94 1003.90,635.25 1005.16,634.58 1006.42,633.92 1007.68,633.27 1008.94,632.64 1010.20,632.02 1011.46,631.42 1012.72,630.82 1013.98,630.24 1015.24,629.67 1016.50,629.11 1017.76,628.57 1019.02,628.03 1020.28,627.51 1021.54,627.00 1022.80,626.50 1024.06,626.01 1025.32,625.53 1026.58,625.06 1027.84,624.60 1029.10,624.15 1030.36,623.71 1031.62,623.28 1032.88,622.86 1034.14,622.45 1035.40,622.05 1036.66,621.66 1037.92,621.27 1039.18,620.90 1040.44,620.53 1041.70,620.17 1042.96,619.82 1044.22,619.48 1045.48,619.14 1046.74,618.82 1048.00,618.50 1049.26,618.19 1050.52,617.88 1051.78,617.59 1053.04,617.30 1054.30,617.02 1055.56,616.74 1056.82,616.47 1058.08,616.21 1059.34,615.95 1060.60,615.70 1061.86,615.46 1063.12,615.22 1064.38,614.99 1065.64,614.76 1066.90,614.54 1068.16,614.32 1069.42,614.11 1070.68,613.91 1071.94,613.71 1073.20,613.52 1074.46,613.33 1075.72,613.14 1076.98,612.96 1078.24,612.79 1079.51,612.62 1080.77,612.45 1082.03,612.29 1083.29,612.14 1084.55,611.99 1085.81,611.84 1087.07,611.69 1088.33,611.55 1089.59,611.42 1090.85,611.29 1092.11,611.16 1093.37,611.03 1094.63,610.91 1095.89,610.79 1097.15,610.68 1098.41,610.57 1099.67,610.46 1100.93,610.36 1102.19,610.26 1103.45,610.16 1104.71,610.06 1105.97,609.97 1107.23,609.88 1108.49,609.80 1109.75,609.72 1111.01,609.64 1112.27,609.56 1113.53,609.48 1114.79,609.41 1116.05,609.34 1117.31,609.28 1118.57,609.21 1119.83,609.15 1121.09,609.09 1122.35,609.03 1123.61,608.98 1124.87,608.93 1126.13,608.88 1127.39,608.83 1128.65,608.78 1129.91,608.74 1131.17,608.70 1132.43,608.66 1133.69,608.62 1134.95,608.59 1136.21,608.55 1137.47,608.52 1138.73,608.49 1139.99,608.47 1141.25,608.44 1142.51,608.42 1143.77,608.40 1145.03,608.38 1146.29,608.36 1147.55,608.34 1148.81,608.33 1150.07,608.32 1151.33,608.31 1152.59,608.30 1153.85,608.29 1155.11,608.29 1156.37,608.29 1157.63,608.28 1158.90,608.29 1160.16,608.29 1161.42,608.29 1162.68,608.30 1163.94,608.31 1165.20,608.32 1166.46,608.33 1167.72,608.34 1168.98,608.36 1170.24,608.38 1171.50,608.40 1172.76,608.42 1174.02,608.44 1175.28,608.47 1176.54,608.49 1177.80,608.52 1179.06,608.55 1180.32,608.59 1181.58,608.62 1182.84,608.66 1184.10,608.70 1185.36,608.74 1186.62,608.78 1187.88,608.83 1189.14,608.88 1190.40,608.93 1191.66,608.98 1192.92,609.03 1194.18,609.09 1195.44,609.15 1196.70,609.21 1197.96,609.28 1199.22,609.34 1200.48,609.41 1201.74,609.48 1203.00,609.56 1204.26,609.64 1205.52,609.72 1206.78,609.80 1208.04,609.88 1209.30,609.97 1210.56,610.06 1211.82,610.16 1213.08,610.26 1214.34,610.36 1215.60,610.46 1216.86,610.57 1218.12,610.68 1219.38,610.79 1220.64,610.91 1221.90,611.03 1223.16,611.16 1224.42,611.29 1225.68,611.42 1226.94,611.55 1228.20,611.69 1229.46,611.84 1230.72,611.99 1231.98,612.14 1233.24,612.29 1234.50,612.45 1235.76,612.62 1237.03,612.79 1238.29,612.96 1239.55,613.14 1240.81,613.33 1242.07,613.52 1243.33,613.71 1244.59,613.91 1245.85,614.11 1247.11,614.32 1248.37,614.54 1249.63,614.76 1250.89,614.99 1252.15,615.22 1253.41,615.46 1254.67,615.70 1255.93,615.95 1257.19,616.21 1258.45,616.47 1259.71,616.74 1260.97,617.02 1262.23,617.30 1263.49,617.59 1264.75,617.88 1266.01,618.19 1267.27,618.50 1268.53,618.82 1269.79,619.14 1271.05,619.48 1272.31,619.82 1273.57,620.17 1274.83,620.53 1276.09,620.90 1277.35,621.27 1278.61,621.66 1279.87,622.05 1281.13,622.45 1282.39,622.86 1283.65,623.28 1284.91,623.71 1286.17,624.15 1287.43,624.60 1288.69,625.06 1289.95,625.53 1291.21,626.01 1292.47,626.50 1293.73,627.00 1294.99,627.51 1296.25,628.03 1297.51,628.57 1298.77,629.11 1300.03,629.67 1301.29,630.24 1302.55,630.82 1303.81,631.42 1305.07,632.02 1306.33,632.64 1307.59,633.27 1308.85,633.92 1310.11,634.58 1311.37,635.25 1312.63,635.94 1313.89,636.64 1315.15,637.35 1316.42,638.08 1317.68,638.82 1318.94,639.58 1320.20,640.35 1321.46,641.14 1322.72,641.95 1323.98,642.77 1325.24,643.60 1326.50,644.45 1327.76,645.32 1329.02,646.21 1330.28,647.11 1331.54,648.03 1332.80,648.97 1334.06,649.93 1335.32,650.90 1336.58,651.89 1337.84,652.90 1339.10,653.93 1340.36,654.98 1341.62,656.05 1342.88,657.13 1344.14,658.24 1345.40,659.37 1346.66,660.52 1347.92,661.69 1349.18,662.87 1350.44,664.09 1351.70,665.32 1352.96,666.57 1354.22,667.85 1355.48,669.15 1356.74,670.47 1358.00,671.81 1359.26,673.18 1360.52,674.57 1361.78,675.99 1363.04,677.42 1364.30,678.89 1365.56,680.38 1366.82,681.89 1368.08,683.43 1369.34,684.99 1370.60,686.58 1371.86,688.20 1373.12,689.84 1374.38,691.51 1375.64,693.20 1376.90,694.93 1378.16,696.68 1379.42,698.46 1380.68,700.27 1381.94,702.10 1383.20,703.97 1384.46,705.86 1385.72,707.79 1386.98,709.74 1388.24,711.73 1389.50,713.74 1390.76,715.79 1392.02,717.86 1393.28,719.97 1394.54,722.11 1395.81,724.28 1397.07,726.49 1398.33,728.73 1399.59,731.00 1400.85,733.30 1402.11,735.64 1403.37,738.01 1404.63,740.41 1405.89,742.85 1407.15,745.33 1408.41,747.84 1409.67,750.39" fill="none" stroke="#440154" stroke-width="3.2" stroke-linecap="square" stroke-linejoin="round"/>
<polyline points="905.60,750.39 906.86,747.84 908.12,745.33 909.38,742.85 910.64,740.41 911.90,738.01 913.16,735.64 914.42,733.30 915.68,731.00 916.94,728.73 918.20,726.49 919.46,724.28 920.73,722.11 921.99,719.97 923.25,717.86 924.51,715.79 925.77,713.74 927.03,711.73 928.29,709.74 929.55,707.79 930.81,705.86 932.07,703.97 933.33,702.10 934.59,700.27 935.85,698.46 937.11,696.68 938.37,694.93 939.63,693.20 940.89,691.51 942.15,689.84 943.41,688.20 944.67,686.58 945.93,684.99 947.19,683.43 948.45,681.89 949.71,680.38 950.97,678.89 952.23,677.42 953.49,675.99 954.75,674.57 956.01,673.18 957.27,671.81 958.53,670.47 959.79,669.15 961.05,667.85 962.31,666.57 963.57,665.32 964.83,664.09 966.09,662.87 967.35,661.69 968.61,660.52 969.87,659.37 971.13,658.24 972.39,657.13 973.65,656.05 974.91,654.98 976.17,653.93 977.43,652.90 978.69,651.89 979.95,650.90 981.21,649.93 982.47,648.97 983.73,648.03 984.99,647.11 986.25,646.21 987.51,645.32 988.77,644.45 990.03,643.60 991.29,642.77 992.55,641.95 993.81,641.14 995.07,640.35 996.33,639.58 997.59,638.82 998.85,638.08 1000.12,637.35 1001.38,636.64 1002.64,635.94 1003.90,635.25 1005.16,634.58 1006.42,633.92 1007.68,633.27 1008.94,632.64 1010.20,632.02 1011.46,631.42 1012.72,630.82 1013.98,630.24 1015.24,629.67 1016.50,629.11 1017.76,628.57 1019.02,628.03 1020.28,627.51 1021.54,627.00 1022.80,626.50 1024.06,626.01 1025.32,625.53 1026.58,625.06 1027.84,624.60 1029.10,624.15 1030.36,623.71 1031.62,623.28 1032.88,622.86 1034.14,622.45 1035.40,622.05 1036.66,621.66 1037.92,621.27 1039.18,620.90 1040.44,620.53 1041.70,620.17 1042.96,619.82 1044.22,619.48 1045.48,619.14 1046.74,618.82 1048.00,618.50 1049.26,618.19 1050.52,617.88 1051.78,617.59 1053.04,617.30 1054.30,617.02 1055.56,616.74 1056.82,616.47 1058.08,616.21 1059.34,615.95 1060.60,615.70 1061.86,615.46 1063.12,615.22 1064.38,614.99 1065.64,614.76 1066.90,614.54 1068.16,614.32 1069.42,614.11 1070.68,613.91 1071.94,613.71 1073.20,613.52 1074.46,613.33 1075.72,613.14 1076.98,612.96 1078.24,612.79 1079.51,612.62 1080.77,612.45 1082.03,612.29 1083.29,612.14 1084.55,611.99 1085.81,611.84 1087.07,611.69 1088.33,611.55 1089.59,611.42 1090.85,611.29 1092.11,611.16 1093.37,611.03 1094.63,610.91 1095.89,610.79 1097.15,610.68 1098.41,610.57 1099.67,610.46 1100.93,610.36 1102.19,610.26 1103.45,610.16 1104.71,610.06 1105.97,609.97 1107.23,609.88 1108.49,609.80 1109.75,609.72 1111.01,609.64 1112.27,609.56 1113.53,609.48 1114.79,609.41 1116.05,609.34 1117.31,609.28 1118.57,609.21 1119.83,609.15 1121.09,609.09 1122.35,609.03 1123.61,608.98 1124.87,608.93 1126.13,608.88 1127.39,608.83 1128.65,608.78 1129.91,608.74 1131.17,608.70 1132.43,608.66 1133.69,608.62 1134.95,608.59 1136.21,608.55 1137.47,608.52 1138.73,608.49 1139.99,608.47 1141.25,608.44 1142.51,608.42 1143.77,608.40 1145.03,608.38 1146.29,608.36 1147.55,608.34 1148.81,608.33 1150.07,608.32 1151.33,608.31 1152.59,608.30 1153.85,608.29 1155.11,608.29 1156.37,608.29 1157.63,608.28 1158.90,608.29 1160.16,608.29 1161.42,608.29 1162.68,608.30 1163.94,608.31 1165.20,608.32 1166.46,608.33 1167.72,608.34 1168.98,608.36 1170.24,608.38 1171.50,608.40 1172.76,608.42 1174.02,608.44 1175.28,608.47 1176.54,608.49 1177.80,608.52 1179.06,608.55 1180.32,608.59 1181.58,608.62 1182.84,608.66 1184.10,608.70 1185.36,608.74 1186.62,608.78 1187.88,608.83 1189.14,608.88 1190.40,608.93 1191.66,608.98 1192.92,609.03 1194.18,609.09 1195.44,609.15 1196.70,609.21 1197.96,609.28 1199.22,609.34 1200.48,609.41 1201.74,609.48 1203.00,609.56 1204.26,609.64 1205.52,609.72 1206.78,609.80 1208.04,609.88 1209.30,609.97 1210.56,610.06 1211.82,610.16 1213.08,610.26 1214.34,610.36 1215.60,610.46 1216.86,610.57 1218.12,610.68 1219.38,610.79 1220.64,610.91 1221.90,611.03 1223.16,611.16 1224.42,611.29 1225.68,611.42 1226.94,611.55 1228.20,611.69 1229.46,611.84 1230.72,611.99 1231.98,612.14 1233.24,612.29 1234.50,612.45 1235.76,612.62 1237.03,612.79 1238.29,612.96 1239.55,613.14 1240.81,613.33 1242.07,613.52 1243.33,613.71 1244.59,613.91 1245.85,614.11 1247.11,614.32 1248.37,614.54 1249.63,614.76 1250.89,614.99 1252.15,615.22 1253.41,615.46 1254.67,615.70 1255.93,615.95 1257.19,616.21 1258.45,616.47 1259.71,616.74 1260.97,617.02 1262.23,617.30 1263.49,617.59 1264.75,617.88 1266.01,618.19 1267.27,618.50 1268.53,618.82 1269.79,619.14 1271.05,619.48 1272.31,619.82 1273.57,620.17 1274.83,620.53 1276.09,620.90 1277.35,621.27 1278.61,621.66 1279.87,622.05 1281.13,622.45 1282.39,622.86 1283.65,623.28 1284.91,623.71 1286.17,624.15 1287.43,624.60 1288.69,625.06 1289.95,625.53 1291.21,626.01 1292.47,626.50 1293.73,627.00 1294.99,627.51 1296.25,628.03 1297.51,628.57 1298.77,629.11 1300.03,629.67 1301.29,630.24 1302.55,630.82 1303.81,631.42 1305.07,632.02 1306.33,632.64 1307.59,633.27 1308.85,633.92 1310.11,634.58 1311.37,635.25 1312.63,635.94 1313.89,636.64 1315.15,637.35 1316.42,638.08 1317.68,638.82 1318.94,639.58 1320.20,640.35 1321.46,641.14 1322.72,641.95 1323.98,642.77 1325.24,643.60 1326.50,644.45 1327.76,645.32 1329.02,646.21 1330.28,647.11 1331.54,648.03 1332.80,648.97 1334.06,649.93 1335.32,650.90 1336.58,651.89 1337.84,652.90 1339.10,653.93 1340.36,654.98 1341.62,656.05 1342.88,657.13 1344.14,658.24 1345.40,659.37 1346.66,660.52 1347.92,661.69 1349.18,662.87 1350.44,664.09 1351.70,665.32 1352.96,666.57 1354.22,667.85 1355.48,669.15 1356.74,670.47 1358.00,671.81 1359.26,673.18 1360.52,674.57 1361.78,675.99 1363.04,677.42 1364.30,678.89 1365.56,680.38 1366.82,681.89 1368.08,683.43 1369.34,684.99 1370.60,686.58 1371.86,688.20 1373.12,689.84 1374.38,691.51 1375.64,693.20 1376.90,694.93 1378.16,696.68 1379.42,698.46 1380.68,700.27 1381.94,702.10 1383.20,703.97 1384.46,705.86 1385.72,707.79 1386.98,709.74 1388.24,711.73 1389.50,713.74 1390.76,715.79 1392.02,717.86 1393.28,719.97 1394.54,722.11 1395.81,724.28 1397.07,726.49 1398.33,728.73 1399.59,731.00 1400.85,733.30 1402.11,735.64 1403.37,738.01 1404.63,740.41 1405.89,742.85 1407.15,745.33 1408.41,747.84 1409.67,750.39" fill="none" stroke="#000" stroke-width="2.5" stroke-dasharray="2.450 3.271" stroke-dashoffset="0" stroke-linejoin="round"/>
<polyline points="905.60,750.39 906.86,746.00 908.12,741.64 909.38,737.33 910.64,733.04 911.90,728.80 913.16,724.59 914.42,720.41 915.68,716.27 916.94,712.16 918.20,708.09 919.46,704.05 920.73,700.04 921.99,696.07 923.25,692.13 924.51,688.23 925.77,684.36 927.03,680.52 928.29,676.72 929.55,672.95 930.81,669.21 932.07,665.50 933.33,661.83 934.59,658.19 935.85,654.58 937.11,651.00 938.37,647.45 939.63,643.94 940.89,640.45 942.15,637.00 943.41,633.58 944.67,630.19 945.93,626.83 947.19,623.50 948.45,620.20 949.71,616.93 950.97,613.70 952.23,610.49 953.49,607.31 954.75,604.16 956.01,601.04 957.27,597.95 958.53,594.88 959.79,591.85 961.05,588.84 962.31,585.87 963.57,582.92 964.83,580.00 966.09,577.11 967.35,574.25 968.61,571.41 969.87,568.60 971.13,565.82 972.39,563.07 973.65,560.34 974.91,557.64 976.17,554.97 977.43,552.32 978.69,549.70 979.95,547.11 981.21,544.54 982.47,542.00 983.73,539.48 984.99,536.99 986.25,534.53 987.51,532.09 988.77,529.67 990.03,527.29 991.29,524.92 992.55,522.58 993.81,520.27 995.07,517.98 996.33,515.71 997.59,513.47 998.85,511.26 1000.12,509.06 1001.38,506.89 1002.64,504.75 1003.90,502.63 1005.16,500.53 1006.42,498.45 1007.68,496.40 1008.94,494.37 1010.20,492.36 1011.46,490.38 1012.72,488.42 1013.98,486.48 1015.24,484.56 1016.50,482.67 1017.76,480.79 1019.02,478.94 1020.28,477.11 1021.54,475.31 1022.80,473.52 1024.06,471.75 1025.32,470.01 1026.58,468.29 1027.84,466.59 1029.10,464.91 1030.36,463.25 1031.62,461.61 1032.88,459.99 1034.14,458.39 1035.40,456.81 1036.66,455.25 1037.92,453.72 1039.18,452.20 1040.44,450.70 1041.70,449.22 1042.96,447.76 1044.22,446.32 1045.48,444.90 1046.74,443.50 1048.00,442.12 1049.26,440.76 1050.52,439.41 1051.78,438.09 1053.04,436.78 1054.30,435.49 1055.56,434.22 1056.82,432.97 1058.08,431.74 1059.34,430.52 1060.60,429.33 1061.86,428.15 1063.12,426.99 1064.38,425.84 1065.64,424.72 1066.90,423.61 1068.16,422.52 1069.42,421.45 1070.68,420.39 1071.94,419.35 1073.20,418.33 1074.46,417.33 1075.72,416.34 1076.98,415.37 1078.24,414.42 1079.51,413.48 1080.77,412.56 1082.03,411.66 1083.29,410.77 1084.55,409.90 1085.81,409.05 1087.07,408.21 1088.33,407.39 1089.59,406.58 1090.85,405.79 1092.11,405.02 1093.37,404.26 1094.63,403.52 1095.89,402.79 1097.15,402.08 1098.41,401.39 1099.67,400.71 1100.93,400.04 1102.19,399.40 1103.45,398.76 1104.71,398.15 1105.97,397.54 1107.23,396.96 1108.49,396.38 1109.75,395.83 1111.01,395.29 1112.27,394.76 1113.53,394.25 1114.79,393.75 1116.05,393.27 1117.31,392.80 1118.57,392.35 1119.83,391.91 1121.09,391.49 1122.35,391.08 1123.61,390.69 1124.87,390.31 1126.13,389.95 1127.39,389.60 1128.65,389.26 1129.91,388.94 1131.17,388.64 1132.43,388.35 1133.69,388.07 1134.95,387.81 1136.21,387.56 1137.47,387.32 1138.73,387.10 1139.99,386.90 1141.25,386.71 1142.51,386.53 1143.77,386.37 1145.03,386.22 1146.29,386.08 1147.55,385.96 1148.81,385.86 1150.07,385.77 1151.33,385.69 1152.59,385.63 1153.85,385.58 1155.11,385.54 1156.37,385.52 1157.63,385.51 1158.90,385.52 1160.16,385.54 1161.42,385.58 1162.68,385.63 1163.94,385.69 1165.20,385.77 1166.46,385.86 1167.72,385.96 1168.98,386.08 1170.24,386.22 1171.50,386.37 1172.76,386.53 1174.02,386.71 1175.28,386.90 1176.54,387.10 1177.80,387.32 1179.06,387.56 1180.32,387.81 1181.58,388.07 1182.84,388.35 1184.10,388.64 1185.36,388.94 1186.62,389.26 1187.88,389.60 1189.14,389.95 1190.40,390.31 1191.66,390.69 1192.92,391.08 1194.18,391.49 1195.44,391.91 1196.70,392.35 1197.96,392.80 1199.22,393.27 1200.48,393.75 1201.74,394.25 1203.00,394.76 1204.26,395.29 1205.52,395.83 1206.78,396.38 1208.04,396.96 1209.30,397.54 1210.56,398.15 1211.82,398.76 1213.08,399.40 1214.34,400.04 1215.60,400.71 1216.86,401.39 1218.12,402.08 1219.38,402.79 1220.64,403.52 1221.90,404.26 1223.16,405.02 1224.42,405.79 1225.68,406.58 1226.94,407.39 1228.20,408.21 1229.46,409.05 1230.72,409.90 1231.98,410.77 1233.24,411.66 1234.50,412.56 1235.76,413.48 1237.03,414.42 1238.29,415.37 1239.55,416.34 1240.81,417.33 1242.07,418.33 1243.33,419.35 1244.59,420.39 1245.85,421.45 1247.11,422.52 1248.37,423.61 1249.63,424.72 1250.89,425.84 1252.15,426.99 1253.41,428.15 1254.67,429.33 1255.93,430.52 1257.19,431.74 1258.45,432.97 1259.71,434.22 1260.97,435.49 1262.23,436.78 1263.49,438.09 1264.75,439.41 1266.01,440.76 1267.27,442.12 1268.53,443.50 1269.79,444.90 1271.05,446.32 1272.31,447.76 1273.57,449.22 1274.83,450.70 1276.09,452.20 1277.35,453.72 1278.61,455.25 1279.87,456.81 1281.13,458.39 1282.39,459.99 1283.65,461.61 1284.91,463.25 1286.17,464.91 1287.43,466.59 1288.69,468.29 1289.95,470.01 1291.21,471.75 1292.47,473.52 1293.73,475.31 1294.99,477.11 1296.25,478.94 1297.51,480.79 1298.77,482.67 1300.03,484.56 1301.29,486.48 1302.55,488.42 1303.81,490.38 1305.07,492.36 1306.33,494.37 1307.59,496.40 1308.85,498.45 1310.11,500.53 1311.37,502.63 1312.63,504.75 1313.89,506.89 1315.15,509.06 1316.42,511.26 1317.68,513.47 1318.94,515.71 1320.20,517.98 1321.46,520.27 1322.72,522.58 1323.98,524.92 1325.24,527.29 1326.50,529.67 1327.76,532.09 1329.02,534.53 1330.28,536.99 1331.54,539.48 1332.80,542.00 1334.06,544.54 1335.32,547.11 1336.58,549.70 1337.84,552.32 1339.10,554.97 1340.36,557.64 1341.62,560.34 1342.88,563.07 1344.14,565.82 1345.40,568.60 1346.66,571.41 1347.92,574.25 1349.18,577.11 1350.44,580.00 1351.70,582.92 1352.96,585.87 1354.22,588.84 1355.48,591.85 1356.74,594.88 1358.00,597.95 1359.26,601.04 1360.52,604.16 1361.78,607.31 1363.04,610.49 1364.30,613.70 1365.56,616.93 1366.82,620.20 1368.08,623.50 1369.34,626.83 1370.60,630.19 1371.86,633.58 1373.12,637.00 1374.38,640.45 1375.64,643.94 1376.90,647.45 1378.16,651.00 1379.42,654.58 1380.68,658.19 1381.94,661.83 1383.20,665.50 1384.46,669.21 1385.72,672.95 1386.98,676.72 1388.24,680.52 1389.50,684.36 1390.76,688.23 1392.02,692.13 1393.28,696.07 1394.54,700.04 1395.81,704.05 1397.07,708.09 1398.33,712.16 1399.59,716.27 1400.85,720.41 1402.11,724.59 1403.37,728.80 1404.63,733.04 1405.89,737.33 1407.15,741.64 1408.41,746.00 1409.67,750.39" fill="none" stroke="#31688e" stroke-width="3.2" stroke-linecap="square" stroke-linejoin="round"/>
<polyline points="905.60,750.39 906.86,746.00 908.12,741.64 909.38,737.33 910.64,733.04 911.90,728.80 913.16,724.59 914.42,720.41 915.68,716.27 916.94,712.16 918.20,708.09 919.46,704.05 920.73,700.04 921.99,696.07 923.25,692.13 924.51,688.23 925.77,684.36 927.03,680.52 928.29,676.72 929.55,672.95 930.81,669.21 932.07,665.50 933.33,661.83 934.59,658.19 935.85,654.58 937.11,651.00 938.37,647.45 939.63,643.94 940.89,640.45 942.15,637.00 943.41,633.58 944.67,630.19 945.93,626.83 947.19,623.50 948.45,620.20 949.71,616.93 950.97,613.70 952.23,610.49 953.49,607.31 954.75,604.16 956.01,601.04 957.27,597.95 958.53,594.88 959.79,591.85 961.05,588.84 962.31,585.87 963.57,582.92 964.83,580.00 966.09,577.11 967.35,574.25 968.61,571.41 969.87,568.60 971.13,565.82 972.39,563.07 973.65,560.34 974.91,557.64 976.17,554.97 977.43,552.32 978.69,549.70 979.95,547.11 981.21,544.54 982.47,542.00 983.73,539.48 984.99,536.99 986.25,534.53 987.51,532.09 988.77,529.67 990.03,527.29 991.29,524.92 992.55,522.58 993.81,520.27 995.07,517.98 996.33,515.71 997.59,513.47 998.85,511.26 1000.12,509.06 1001.38,506.89 1002.64,504.75 1003.90,502.63 1005.16,500.53 1006.42,498.45 1007.68,496.40 1008.94,494.37 1010.20,492.36 1011.46,490.38 1012.72,488.42 1013.98,486.48 1015.24,484.56 1016.50,482.67 1017.76,480.79 1019.02,478.94 1020.28,477.11 1021.54,475.31 1022.80,473.52 1024.06,471.75 1025.32,470.01 1026.58,468.29 1027.84,466.59 1029.10,464.91 1030.36,463.25 1031.62,461.61 1032.88,459.99 1034.14,458.39 1035.40,456.81 1036.66,455.25 1037.92,453.72 1039.18,452.20 1040.44,450.70 1041.70,449.22 1042.96,447.76 1044.22,446.32 1045.48,444.90 1046.74,443.50 1048.00,442.12 1049.26,440.76 1050.52,439.41 1051.78,438.09 1053.04,436.78 1054.30,435.49 1055.56,434.22 1056.82,432.97 1058.08,431.74 1059.34,430.52 1060.60,429.33 1061.86,428.15 1063.12,426.99 1064.38,425.84 1065.64,424.72 1066.90,423.61 1068.16,422.52 1069.42,421.45 1070.68,420.39 1071.94,419.35 1073.20,418.33 1074.46,417.33 1075.72,416.34 1076.98,415.37 1078.24,414.42 1079.51,413.48 1080.77,412.56 1082.03,411.66 1083.29,410.77 1084.55,409.90 1085.81,409.05 1087.07,408.21 1088.33,407.39 1089.59,406.58 1090.85,405.79 1092.11,405.02 1093.37,404.26 1094.63,403.52 1095.89,402.79 1097.15,402.08 1098.41,401.39 1099.67,400.71 1100.93,400.04 1102.19,399.40 1103.45,398.76 1104.71,398.15 1105.97,397.54 1107.23,396.96 1108.49,396.38 1109.75,395.83 1111.01,395.29 1112.27,394.76 1113.53,394.25 1114.79,393.75 1116.05,393.27 1117.31,392.80 1118.57,392.35 1119.83,391.91 1121.09,391.49 1122.35,391.08 1123.61,390.69 1124.87,390.31 1126.13,389.95 1127.39,389.60 1128.65,389.26 1129.91,388.94 1131.17,388.64 1132.43,388.35 1133.69,388.07 1134.95,387.81 1136.21,387.56 1137.47,387.32 1138.73,387.10 1139.99,386.90 1141.25,386.71 1142.51,386.53 1143.77,386.37 1145.03,386.22 1146.29,386.08 1147.55,385.96 1148.81,385.86 1150.07,385.77 1151.33,385.69 1152.59,385.63 1153.85,385.58 1155.11,385.54 1156.37,385.52 1157.63,385.51 1158.90,385.52 1160.16,385.54 1161.42,385.58 1162.68,385.63 1163.94,385.69 1165.20,385.77 1166.46,385.86 1167.72,385.96 1168.98,386.08 1170.24,386.22 1171.50,386.37 1172.76,386.53 1174.02,386.71 1175.28,386.90 1176.54,387.10 1177.80,387.32 1179.06,387.56 1180.32,387.81 1181.58,388.07 1182.84,388.35 1184.10,388.64 1185.36,388.94 1186.62,389.26 1187.88,389.60 1189.14,389.95 1190.40,390.31 1191.66,390.69 1192.92,391.08 1194.18,391.49 1195.44,391.91 1196.70,392.35 1197.96,392.80 1199.22,393.27 1200.48,393.75 1201.74,394.25 1203.00,394.76 1204.26,395.29 1205.52,395.83 1206.78,396.38 1208.04,396.96 1209.30,397.54 1210.56,398.15 1211.82,398.76 1213.08,399.40 1214.34,400.04 1215.60,400.71 1216.86,401.39 1218.12,402.08 1219.38,402.79 1220.64,403.52 1221.90,404.26 1223.16,405.02 1224.42,405.79 1225.68,406.58 1226.94,407.39 1228.20,408.21 1229.46,409.05 1230.72,409.90 1231.98,410.77 1233.24,411.66 1234.50,412.56 1235.76,413.48 1237.03,414.42 1238.29,415.37 1239.55,416.34 1240.81,417.33 1242.07,418.33 1243.33,419.35 1244.59,420.39 1245.85,421.45 1247.11,422.52 1248.37,423.61 1249.63,424.72 1250.89,425.84 1252.15,426.99 1253.41,428.15 1254.67,429.33 1255.93,430.52 1257.19,431.74 1258.45,432.97 1259.71,434.22 1260.97,435.49 1262.23,436.78 1263.49,438.09 1264.75,439.41 1266.01,440.76 1267.27,442.12 1268.53,443.50 1269.79,444.90 1271.05,446.32 1272.31,447.76 1273.57,449.22 1274.83,450.70 1276.09,452.20 1277.35,453.72 1278.61,455.25 1279.87,456.81 1281.13,458.39 1282.39,459.99 1283.65,461.61 1284.91,463.25 1286.17,464.91 1287.43,466.59 1288.69,468.29 1289.95,470.01 1291.21,471.75 1292.47,473.52 1293.73,475.31 1294.99,477.11 1296.25,478.94 1297.51,480.79 1298.77,482.67 1300.03,484.56 1301.29,486.48 1302.55,488.42 1303.81,490.38 1305.07,492.36 1306.33,494.37 1307.59,496.40 1308.85,498.45 1310.11,500.53 1311.37,502.63 1312.63,504.75 1313.89,506.89 1315.15,509.06 1316.42,511.26 1317.68,513.47 1318.94,515.71 1320.20,517.98 1321.46,520.27 1322.72,522.58 1323.98,524.92 1325.24,527.29 1326.50,529.67 1327.76,532.09 1329.02,534.53 1330.28,536.99 1331.54,539.48 1332.80,542.00 1334.06,544.54 1335.32,547.11 1336.58,549.70 1337.84,552.32 1339.10,554.97 1340.36,557.64 1341.62,560.34 1342.88,563.07 1344.14,565.82 1345.40,568.60 1346.66,571.41 1347.92,574.25 1349.18,577.11 1350.44,580.00 1351.70,582.92 1352.96,585.87 1354.22,588.84 1355.48,591.85 1356.74,594.88 1358.00,597.95 1359.26,601.04 1360.52,604.16 1361.78,607.31 1363.04,610.49 1364.30,613.70 1365.56,616.93 1366.82,620.20 1368.08,623.50 1369.34,626.83 1370.60,630.19 1371.86,633.58 1373.12,637.00 1374.38,640.45 1375.64,643.94 1376.90,647.45 1378.16,651.00 1379.42,654.58 1380.68,658.19 1381.94,661.83 1383.20,665.50 1384.46,669.21 1385.72,672.95 1386.98,676.72 1388.24,680.52 1389.50,684.36 1390.76,688.23 1392.02,692.13 1393.28,696.07 1394.54,700.04 1395.81,704.05 1397.07,708.09 1398.33,712.16 1399.59,716.27 1400.85,720.41 1402.11,724.59 1403.37,728.80 1404.63,733.04 1405.89,737.33 1407.15,741.64 1408.41,746.00 1409.67,750.39" fill="none" stroke="#000" stroke-width="2.5" stroke-dasharray="2.450 3.271" stroke-dashoffset="0" stroke-linejoin="round"/>
<polyline points="905.60,750.39 906.86,744.54 908.12,738.74 909.38,732.97 910.64,727.23 911.90,721.53 913.16,715.87 914.42,710.24 915.68,704.64 916.94,699.09 918.20,693.56 919.46,688.07 920.73,682.62 921.99,677.20 923.25,671.82 924.51,666.47 925.77,661.16 927.03,655.88 928.29,650.64 929.55,645.43 930.81,640.25 932.07,635.11 933.33,630.00 934.59,624.93 935.85,619.89 937.11,614.88 938.37,609.91 939.63,604.98 940.89,600.07 942.15,595.20 943.41,590.37 944.67,585.56 945.93,580.80 947.19,576.06 948.45,571.36 949.71,566.69 950.97,562.05 952.23,557.45 953.49,552.88 954.75,548.34 956.01,543.83 957.27,539.36 958.53,534.92 959.79,530.52 961.05,526.14 962.31,521.80 963.57,517.49 964.83,513.21 966.09,508.97 967.35,504.76 968.61,500.57 969.87,496.42 971.13,492.31 972.39,488.22 973.65,484.17 974.91,480.15 976.17,476.16 977.43,472.20 978.69,468.27 979.95,464.37 981.21,460.51 982.47,456.67 983.73,452.87 984.99,449.10 986.25,445.36 987.51,441.65 988.77,437.97 990.03,434.32 991.29,430.71 992.55,427.12 993.81,423.56 995.07,420.04 996.33,416.54 997.59,413.08 998.85,409.64 1000.12,406.24 1001.38,402.86 1002.64,399.52 1003.90,396.21 1005.16,392.92 1006.42,389.67 1007.68,386.44 1008.94,383.25 1010.20,380.08 1011.46,376.95 1012.72,373.84 1013.98,370.76 1015.24,367.72 1016.50,364.70 1017.76,361.71 1019.02,358.75 1020.28,355.82 1021.54,352.92 1022.80,350.05 1024.06,347.21 1025.32,344.39 1026.58,341.61 1027.84,338.85 1029.10,336.12 1030.36,333.43 1031.62,330.76 1032.88,328.11 1034.14,325.50 1035.40,322.92 1036.66,320.36 1037.92,317.83 1039.18,315.33 1040.44,312.86 1041.70,310.42 1042.96,308.00 1044.22,305.62 1045.48,303.26 1046.74,300.93 1048.00,298.62 1049.26,296.35 1050.52,294.10 1051.78,291.88 1053.04,289.69 1054.30,287.52 1055.56,285.39 1056.82,283.28 1058.08,281.20 1059.34,279.14 1060.60,277.12 1061.86,275.12 1063.12,273.14 1064.38,271.20 1065.64,269.28 1066.90,267.39 1068.16,265.53 1069.42,263.69 1070.68,261.88 1071.94,260.10 1073.20,258.35 1074.46,256.62 1075.72,254.92 1076.98,253.24 1078.24,251.59 1079.51,249.97 1080.77,248.38 1082.03,246.81 1083.29,245.27 1084.55,243.76 1085.81,242.27 1087.07,240.81 1088.33,239.37 1089.59,237.97 1090.85,236.58 1092.11,235.23 1093.37,233.90 1094.63,232.60 1095.89,231.32 1097.15,230.07 1098.41,228.85 1099.67,227.65 1100.93,226.48 1102.19,225.33 1103.45,224.22 1104.71,223.12 1105.97,222.06 1107.23,221.02 1108.49,220.00 1109.75,219.01 1111.01,218.05 1112.27,217.11 1113.53,216.20 1114.79,215.32 1116.05,214.46 1117.31,213.62 1118.57,212.82 1119.83,212.04 1121.09,211.28 1122.35,210.55 1123.61,209.85 1124.87,209.17 1126.13,208.52 1127.39,207.89 1128.65,207.29 1129.91,206.71 1131.17,206.16 1132.43,205.64 1133.69,205.14 1134.95,204.67 1136.21,204.22 1137.47,203.80 1138.73,203.40 1139.99,203.03 1141.25,202.69 1142.51,202.37 1143.77,202.07 1145.03,201.81 1146.29,201.56 1147.55,201.35 1148.81,201.16 1150.07,200.99 1151.33,200.85 1152.59,200.73 1153.85,200.64 1155.11,200.58 1156.37,200.54 1157.63,200.53 1158.90,200.54 1160.16,200.58 1161.42,200.64 1162.68,200.73 1163.94,200.85 1165.20,200.99 1166.46,201.16 1167.72,201.35 1168.98,201.56 1170.24,201.81 1171.50,202.07 1172.76,202.37 1174.02,202.69 1175.28,203.03 1176.54,203.40 1177.80,203.80 1179.06,204.22 1180.32,204.67 1181.58,205.14 1182.84,205.64 1184.10,206.16 1185.36,206.71 1186.62,207.29 1187.88,207.89 1189.14,208.52 1190.40,209.17 1191.66,209.85 1192.92,210.55 1194.18,211.28 1195.44,212.04 1196.70,212.82 1197.96,213.62 1199.22,214.46 1200.48,215.32 1201.74,216.20 1203.00,217.11 1204.26,218.05 1205.52,219.01 1206.78,220.00 1208.04,221.02 1209.30,222.06 1210.56,223.12 1211.82,224.22 1213.08,225.33 1214.34,226.48 1215.60,227.65 1216.86,228.85 1218.12,230.07 1219.38,231.32 1220.64,232.60 1221.90,233.90 1223.16,235.23 1224.42,236.58 1225.68,237.97 1226.94,239.37 1228.20,240.81 1229.46,242.27 1230.72,243.76 1231.98,245.27 1233.24,246.81 1234.50,248.38 1235.76,249.97 1237.03,251.59 1238.29,253.24 1239.55,254.92 1240.81,256.62 1242.07,258.35 1243.33,260.10 1244.59,261.88 1245.85,263.69 1247.11,265.53 1248.37,267.39 1249.63,269.28 1250.89,271.20 1252.15,273.14 1253.41,275.12 1254.67,277.12 1255.93,279.14 1257.19,281.20 1258.45,283.28 1259.71,285.39 1260.97,287.52 1262.23,289.69 1263.49,291.88 1264.75,294.10 1266.01,296.35 1267.27,298.62 1268.53,300.93 1269.79,303.26 1271.05,305.62 1272.31,308.00 1273.57,310.42 1274.83,312.86 1276.09,315.33 1277.35,317.83 1278.61,320.36 1279.87,322.92 1281.13,325.50 1282.39,328.11 1283.65,330.76 1284.91,333.43 1286.17,336.12 1287.43,338.85 1288.69,341.61 1289.95,344.39 1291.21,347.21 1292.47,350.05 1293.73,352.92 1294.99,355.82 1296.25,358.75 1297.51,361.71 1298.77,364.70 1300.03,367.72 1301.29,370.76 1302.55,373.84 1303.81,376.95 1305.07,380.08 1306.33,383.25 1307.59,386.44 1308.85,389.67 1310.11,392.92 1311.37,396.21 1312.63,399.52 1313.89,402.86 1315.15,406.24 1316.42,409.64 1317.68,413.08 1318.94,416.54 1320.20,420.04 1321.46,423.56 1322.72,427.12 1323.98,430.71 1325.24,434.32 1326.50,437.97 1327.76,441.65 1329.02,445.36 1330.28,449.10 1331.54,452.87 1332.80,456.67 1334.06,460.51 1335.32,464.37 1336.58,468.27 1337.84,472.20 1339.10,476.16 1340.36,480.15 1341.62,484.17 1342.88,488.22 1344.14,492.31 1345.40,496.42 1346.66,500.57 1347.92,504.76 1349.18,508.97 1350.44,513.21 1351.70,517.49 1352.96,521.80 1354.22,526.14 1355.48,530.52 1356.74,534.92 1358.00,539.36 1359.26,543.83 1360.52,548.34 1361.78,552.88 1363.04,557.45 1364.30,562.05 1365.56,566.69 1366.82,571.36 1368.08,576.06 1369.34,580.80 1370.60,585.56 1371.86,590.37 1373.12,595.20 1374.38,600.07 1375.64,604.98 1376.90,609.91 1378.16,614.88 1379.42,619.89 1380.68,624.93 1381.94,630.00 1383.20,635.11 1384.46,640.25 1385.72,645.43 1386.98,650.64 1388.24,655.88 1389.50,661.16 1390.76,666.47 1392.02,671.82 1393.28,677.20 1394.54,682.62 1395.81,688.07 1397.07,693.56 1398.33,699.09 1399.59,704.64 1400.85,710.24 1402.11,715.87 1403.37,721.53 1404.63,727.23 1405.89,732.97 1407.15,738.74 1408.41,744.54 1409.67,750.39" fill="none" stroke="#35b779" stroke-width="3.2" stroke-linecap="square" stroke-linejoin="round"/>
<polyline points="905.60,750.39 906.86,744.54 908.12,738.74 909.38,732.97 910.64,727.23 911.90,721.53 913.16,715.87 914.42,710.24 915.68,704.64 916.94,699.09 918.20,693.56 919.46,688.07 920.73,682.62 921.99,677.20 923.25,671.82 924.51,666.47 925.77,661.16 927.03,655.88 928.29,650.64 929.55,645.43 930.81,640.25 932.07,635.11 933.33,630.00 934.59,624.93 935.85,619.89 937.11,614.88 938.37,609.91 939.63,604.98 940.89,600.07 942.15,595.20 943.41,590.37 944.67,585.56 945.93,580.80 947.19,576.06 948.45,571.36 949.71,566.69 950.97,562.05 952.23,557.45 953.49,552.88 954.75,548.34 956.01,543.83 957.27,539.36 958.53,534.92 959.79,530.52 961.05,526.14 962.31,521.80 963.57,517.49 964.83,513.21 966.09,508.97 967.35,504.76 968.61,500.57 969.87,496.42 971.13,492.31 972.39,488.22 973.65,484.17 974.91,480.15 976.17,476.16 977.43,472.20 978.69,468.27 979.95,464.37 981.21,460.51 982.47,456.67 983.73,452.87 984.99,449.10 986.25,445.36 987.51,441.65 988.77,437.97 990.03,434.32 991.29,430.71 992.55,427.12 993.81,423.56 995.07,420.04 996.33,416.54 997.59,413.08 998.85,409.64 1000.12,406.24 1001.38,402.86 1002.64,399.52 1003.90,396.21 1005.16,392.92 1006.42,389.67 1007.68,386.44 1008.94,383.25 1010.20,380.08 1011.46,376.95 1012.72,373.84 1013.98,370.76 1015.24,367.72 1016.50,364.70 1017.76,361.71 1019.02,358.75 1020.28,355.82 1021.54,352.92 1022.80,350.05 1024.06,347.21 1025.32,344.39 1026.58,341.61 1027.84,338.85 1029.10,336.12 1030.36,333.43 1031.62,330.76 1032.88,328.11 1034.14,325.50 1035.40,322.92 1036.66,320.36 1037.92,317.83 1039.18,315.33 1040.44,312.86 1041.70,310.42 1042.96,308.00 1044.22,305.62 1045.48,303.26 1046.74,300.93 1048.00,298.62 1049.26,296.35 1050.52,294.10 1051.78,291.88 1053.04,289.69 1054.30,287.52 1055.56,285.39 1056.82,283.28 1058.08,281.20 1059.34,279.14 1060.60,277.12 1061.86,275.12 1063.12,273.14 1064.38,271.20 1065.64,269.28 1066.90,267.39 1068.16,265.53 1069.42,263.69 1070.68,261.88 1071.94,260.10 1073.20,258.35 1074.46,256.62 1075.72,254.92 1076.98,253.24 1078.24,251.59 1079.51,249.97 1080.77,248.38 1082.03,246.81 1083.29,245.27 1084.55,243.76 1085.81,242.27 1087.07,240.81 1088.33,239.37 1089.59,237.97 1090.85,236.58 1092.11,235.23 1093.37,233.90 1094.63,232.60 1095.89,231.32 1097.15,230.07 1098.41,228.85 1099.67,227.65 1100.93,226.48 1102.19,225.33 1103.45,224.22 1104.71,223.12 1105.97,222.06 1107.23,221.02 1108.49,220.00 1109.75,219.01 1111.01,218.05 1112.27,217.11 1113.53,216.20 1114.79,215.32 1116.05,214.46 1117.31,213.62 1118.57,212.82 1119.83,212.04 1121.09,211.28 1122.35,210.55 1123.61,209.85 1124.87,209.17 1126.13,208.52 1127.39,207.89 1128.65,207.29 1129.91,206.71 1131.17,206.16 1132.43,205.64 1133.69,205.14 1134.95,204.67 1136.21,204.22 1137.47,203.80 1138.73,203.40 1139.99,203.03 1141.25,202.69 1142.51,202.37 1143.77,202.07 1145.03,201.81 1146.29,201.56 1147.55,201.35 1148.81,201.16 1150.07,200.99 1151.33,200.85 1152.59,200.73 1153.85,200.64 1155.11,200.58 1156.37,200.54 1157.63,200.53 1158.90,200.54 1160.16,200.58 1161.42,200.64 1162.68,200.73 1163.94,200.85 1165.20,200.99 1166.46,201.16 1167.72,201.35 1168.98,201.56 1170.24,201.81 1171.50,202.07 1172.76,202.37 1174.02,202.69 1175.28,203.03 1176.54,203.40 1177.80,203.80 1179.06,204.22 1180.32,204.67 1181.58,205.14 1182.84,205.64 1184.10,206.16 1185.36,206.71 1186.62,207.29 1187.88,207.89 1189.14,208.52 1190.40,209.17 1191.66,209.85 1192.92,210.55 1194.18,211.28 1195.44,212.04 1196.70,212.82 1197.96,213.62 1199.22,214.46 1200.48,215.32 1201.74,216.20 1203.00,217.11 1204.26,218.05 1205.52,219.01 1206.78,220.00 1208.04,221.02 1209.30,222.06 1210.56,223.12 1211.82,224.22 1213.08,225.33 1214.34,226.48 1215.60,227.65 1216.86,228.85 1218.12,230.07 1219.38,231.32 1220.64,232.60 1221.90,233.90 1223.16,235.23 1224.42,236.58 1225.68,237.97 1226.94,239.37 1228.20,240.81 1229.46,242.27 1230.72,243.76 1231.98,245.27 1233.24,246.81 1234.50,248.38 1235.76,249.97 1237.03,251.59 1238.29,253.24 1239.55,254.92 1240.81,256.62 1242.07,258.35 1243.33,260.10 1244.59,261.88 1245.85,263.69 1247.11,265.53 1248.37,267.39 1249.63,269.28 1250.89,271.20 1252.15,273.14 1253.41,275.12 1254.67,277.12 1255.93,279.14 1257.19,281.20 1258.45,283.28 1259.71,285.39 1260.97,287.52 1262.23,289.69 1263.49,291.88 1264.75,294.10 1266.01,296.35 1267.27,298.62 1268.53,300.93 1269.79,303.26 1271.05,305.62 1272.31,308.00 1273.57,310.42 1274.83,312.86 1276.09,315.33 1277.35,317.83 1278.61,320.36 1279.87,322.92 1281.13,325.50 1282.39,328.11 1283.65,330.76 1284.91,333.43 1286.17,336.12 1287.43,338.85 1288.69,341.61 1289.95,344.39 1291.21,347.21 1292.47,350.05 1293.73,352.92 1294.99,355.82 1296.25,358.75 1297.51,361.71 1298.77,364.70 1300.03,367.72 1301.29,370.76 1302.55,373.84 1303.81,376.95 1305.07,380.08 1306.33,383.25 1307.59,386.44 1308.85,389.67 1310.11,392.92 1311.37,396.21 1312.63,399.52 1313.89,402.86 1315.15,406.24 1316.42,409.64 1317.68,413.08 1318.94,416.54 1320.20,420.04 1321.46,423.56 1322.72,427.12 1323.98,430.71 1325.24,434.32 1326.50,437.97 1327.76,441.65 1329.02,445.36 1330.28,449.10 1331.54,452.87 1332.80,456.67 1334.06,460.51 1335.32,464.37 1336.58,468.27 1337.84,472.20 1339.10,476.16 1340.36,480.15 1341.62,484.17 1342.88,488.22 1344.14,492.31 1345.40,496.42 1346.66,500.57 1347.92,504.76 1349.18,508.97 1350.44,513.21 1351.70,517.49 1352.96,521.80 1354.22,526.14 1355.48,530.52 1356.74,534.92 1358.00,539.36 1359.26,543.83 1360.52,548.34 1361.78,552.88 1363.04,557.45 1364.30,562.05 1365.56,566.69 1366.82,571.36 1368.08,576.06 1369.34,580.80 1370.60,585.56 1371.86,590.37 1373.12,595.20 1374.38,600.07 1375.64,604.98 1376.90,609.91 1378.16,614.88 1379.42,619.89 1380.68,624.93 1381.94,630.00 1383.20,635.11 1384.46,640.25 1385.72,645.43 1386.98,650.64 1388.24,655.88 1389.50,661.16 1390.76,666.47 1392.02,671.82 1393.28,677.20 1394.54,682.62 1395.81,688.07 1397.07,693.56 1398.33,699.09 1399.59,704.64 1400.85,710.24 1402.11,715.87 1403.37,721.53 1404.63,727.23 1405.89,732.97 1407.15,738.74 1408.41,744.54 1409.67,750.39" fill="none" stroke="#000" stroke-width="2.5" stroke-dasharray="2.450 3.271" stroke-dashoffset="0" stroke-linejoin="round"/>
<polyline points="905.60,750.39 906.86,743.26 908.12,736.17 909.38,729.12 910.64,722.10 911.90,715.11 913.16,708.17 914.42,701.26 915.68,694.38 916.94,687.54 918.20,680.74 919.46,673.97 920.73,667.24 921.99,660.55 923.25,653.89 924.51,647.26 925.77,640.68 927.03,634.13 928.29,627.61 929.55,621.13 930.81,614.69 932.07,608.28 933.33,601.91 934.59,595.57 935.85,589.27 937.11,583.00 938.37,576.77 939.63,570.58 940.89,564.42 942.15,558.30 943.41,552.22 944.67,546.17 945.93,540.16 947.19,534.18 948.45,528.24 949.71,522.33 950.97,516.46 952.23,510.62 953.49,504.83 954.75,499.06 956.01,493.34 957.27,487.65 958.53,481.99 959.79,476.37 961.05,470.79 962.31,465.24 963.57,459.73 964.83,454.25 966.09,448.81 967.35,443.41 968.61,438.04 969.87,432.70 971.13,427.41 972.39,422.15 973.65,416.92 974.91,411.73 976.17,406.58 977.43,401.46 978.69,396.38 979.95,391.33 981.21,386.32 982.47,381.34 983.73,376.40 984.99,371.50 986.25,366.63 987.51,361.80 988.77,357.00 990.03,352.24 991.29,347.52 992.55,342.83 993.81,338.18 995.07,333.56 996.33,328.98 997.59,324.43 998.85,319.92 1000.12,315.45 1001.38,311.01 1002.64,306.61 1003.90,302.24 1005.16,297.91 1006.42,293.61 1007.68,289.35 1008.94,285.13 1010.20,280.94 1011.46,276.79 1012.72,272.67 1013.98,268.59 1015.24,264.54 1016.50,260.53 1017.76,256.56 1019.02,252.62 1020.28,248.72 1021.54,244.85 1022.80,241.02 1024.06,237.23 1025.32,233.47 1026.58,229.74 1027.84,226.05 1029.10,222.40 1030.36,218.78 1031.62,215.20 1032.88,211.66 1034.14,208.15 1035.40,204.67 1036.66,201.23 1037.92,197.83 1039.18,194.47 1040.44,191.13 1041.70,187.84 1042.96,184.58 1044.22,181.35 1045.48,178.16 1046.74,175.01 1048.00,171.89 1049.26,168.81 1050.52,165.77 1051.78,162.76 1053.04,159.78 1054.30,156.84 1055.56,153.94 1056.82,151.07 1058.08,148.24 1059.34,145.44 1060.60,142.68 1061.86,139.96 1063.12,137.27 1064.38,134.62 1065.64,132.00 1066.90,129.41 1068.16,126.87 1069.42,124.36 1070.68,121.88 1071.94,119.44 1073.20,117.04 1074.46,114.67 1075.72,112.34 1076.98,110.04 1078.24,107.78 1079.51,105.55 1080.77,103.36 1082.03,101.21 1083.29,99.09 1084.55,97.00 1085.81,94.96 1087.07,92.94 1088.33,90.97 1089.59,89.03 1090.85,87.12 1092.11,85.25 1093.37,83.42 1094.63,81.62 1095.89,79.86 1097.15,78.13 1098.41,76.44 1099.67,74.78 1100.93,73.16 1102.19,71.58 1103.45,70.03 1104.71,68.52 1105.97,67.04 1107.23,65.60 1108.49,64.19 1109.75,62.82 1111.01,61.48 1112.27,60.18 1113.53,58.92 1114.79,57.69 1116.05,56.50 1117.31,55.34 1118.57,54.22 1119.83,53.13 1121.09,52.08 1122.35,51.07 1123.61,50.09 1124.87,49.15 1126.13,48.24 1127.39,47.37 1128.65,46.53 1129.91,45.73 1131.17,44.96 1132.43,44.23 1133.69,43.54 1134.95,42.88 1136.21,42.26 1137.47,41.67 1138.73,41.12 1139.99,40.60 1141.25,40.12 1142.51,39.68 1143.77,39.27 1145.03,38.89 1146.29,38.56 1147.55,38.25 1148.81,37.99 1150.07,37.75 1151.33,37.56 1152.59,37.40 1153.85,37.27 1155.11,37.18 1156.37,37.13 1157.63,37.11 1158.90,37.13 1160.16,37.18 1161.42,37.27 1162.68,37.40 1163.94,37.56 1165.20,37.75 1166.46,37.99 1167.72,38.25 1168.98,38.56 1170.24,38.89 1171.50,39.27 1172.76,39.68 1174.02,40.12 1175.28,40.60 1176.54,41.12 1177.80,41.67 1179.06,42.26 1180.32,42.88 1181.58,43.54 1182.84,44.23 1184.10,44.96 1185.36,45.73 1186.62,46.53 1187.88,47.37 1189.14,48.24 1190.40,49.15 1191.66,50.09 1192.92,51.07 1194.18,52.08 1195.44,53.13 1196.70,54.22 1197.96,55.34 1199.22,56.50 1200.48,57.69 1201.74,58.92 1203.00,60.18 1204.26,61.48 1205.52,62.82 1206.78,64.19 1208.04,65.60 1209.30,67.04 1210.56,68.52 1211.82,70.03 1213.08,71.58 1214.34,73.16 1215.60,74.78 1216.86,76.44 1218.12,78.13 1219.38,79.86 1220.64,81.62 1221.90,83.42 1223.16,85.25 1224.42,87.12 1225.68,89.03 1226.94,90.97 1228.20,92.94 1229.46,94.96 1230.72,97.00 1231.98,99.09 1233.24,101.21 1234.50,103.36 1235.76,105.55 1237.03,107.78 1238.29,110.04 1239.55,112.34 1240.81,114.67 1242.07,117.04 1243.33,119.44 1244.59,121.88 1245.85,124.36 1247.11,126.87 1248.37,129.41 1249.63,132.00 1250.89,134.62 1252.15,137.27 1253.41,139.96 1254.67,142.68 1255.93,145.44 1257.19,148.24 1258.45,151.07 1259.71,153.94 1260.97,156.84 1262.23,159.78 1263.49,162.76 1264.75,165.77 1266.01,168.81 1267.27,171.89 1268.53,175.01 1269.79,178.16 1271.05,181.35 1272.31,184.58 1273.57,187.84 1274.83,191.13 1276.09,194.47 1277.35,197.83 1278.61,201.23 1279.87,204.67 1281.13,208.15 1282.39,211.66 1283.65,215.20 1284.91,218.78 1286.17,222.40 1287.43,226.05 1288.69,229.74 1289.95,233.47 1291.21,237.23 1292.47,241.02 1293.73,244.85 1294.99,248.72 1296.25,252.62 1297.51,256.56 1298.77,260.53 1300.03,264.54 1301.29,268.59 1302.55,272.67 1303.81,276.79 1305.07,280.94 1306.33,285.13 1307.59,289.35 1308.85,293.61 1310.11,297.91 1311.37,302.24 1312.63,306.61 1313.89,311.01 1315.15,315.45 1316.42,319.92 1317.68,324.43 1318.94,328.98 1320.20,333.56 1321.46,338.18 1322.72,342.83 1323.98,347.52 1325.24,352.24 1326.50,357.00 1327.76,361.80 1329.02,366.63 1330.28,371.50 1331.54,376.40 1332.80,381.34 1334.06,386.32 1335.32,391.33 1336.58,396.38 1337.84,401.46 1339.10,406.58 1340.36,411.73 1341.62,416.92 1342.88,422.15 1344.14,427.41 1345.40,432.70 1346.66,438.04 1347.92,443.41 1349.18,448.81 1350.44,454.25 1351.70,459.73 1352.96,465.24 1354.22,470.79 1355.48,476.37 1356.74,481.99 1358.00,487.65 1359.26,493.34 1360.52,499.06 1361.78,504.83 1363.04,510.62 1364.30,516.46 1365.56,522.33 1366.82,528.24 1368.08,534.18 1369.34,540.16 1370.60,546.17 1371.86,552.22 1373.12,558.30 1374.38,564.42 1375.64,570.58 1376.90,576.77 1378.16,583.00 1379.42,589.27 1380.68,595.57 1381.94,601.91 1383.20,608.28 1384.46,614.69 1385.72,621.13 1386.98,627.61 1388.24,634.13 1389.50,640.68 1390.76,647.26 1392.02,653.89 1393.28,660.55 1394.54,667.24 1395.81,673.97 1397.07,680.74 1398.33,687.54 1399.59,694.38 1400.85,701.26 1402.11,708.17 1403.37,715.11 1404.63,722.10 1405.89,729.12 1407.15,736.17 1408.41,743.26 1409.67,750.39" fill="none" stroke="#fde725" stroke-width="3.2" stroke-linecap="square" stroke-linejoin="round"/>
<polyline points="905.60,750.39 906.86,743.26 908.12,736.17 909.38,729.12 910.64,722.10 911.90,715.11 913.16,708.17 914.42,701.26 915.68,694.38 916.94,687.54 918.20,680.74 919.46,673.97 920.73,667.24 921.99,660.55 923.25,653.89 924.51,647.26 925.77,640.68 927.03,634.13 928.29,627.61 929.55,621.13 930.81,614.69 932.07,608.28 933.33,601.91 934.59,595.57 935.85,589.27 937.11,583.00 938.37,576.77 939.63,570.58 940.89,564.42 942.15,558.30 943.41,552.22 944.67,546.17 945.93,540.16 947.19,534.18 948.45,528.24 949.71,522.33 950.97,516.46 952.23,510.62 953.49,504.83 954.75,499.06 956.01,493.34 957.27,487.65 958.53,481.99 959.79,476.37 961.05,470.79 962.31,465.24 963.57,459.73 964.83,454.25 966.09,448.81 967.35,443.41 968.61,438.04 969.87,432.70 971.13,427.41 972.39,422.15 973.65,416.92 974.91,411.73 976.17,406.58 977.43,401.46 978.69,396.38 979.95,391.33 981.21,386.32 982.47,381.34 983.73,376.40 984.99,371.50 986.25,366.63 987.51,361.80 988.77,357.00 990.03,352.24 991.29,347.52 992.55,342.83 993.81,338.18 995.07,333.56 996.33,328.98 997.59,324.43 998.85,319.92 1000.12,315.45 1001.38,311.01 1002.64,306.61 1003.90,302.24 1005.16,297.91 1006.42,293.61 1007.68,289.35 1008.94,285.13 1010.20,280.94 1011.46,276.79 1012.72,272.67 1013.98,268.59 1015.24,264.54 1016.50,260.53 1017.76,256.56 1019.02,252.62 1020.28,248.72 1021.54,244.85 1022.80,241.02 1024.06,237.23 1025.32,233.47 1026.58,229.74 1027.84,226.05 1029.10,222.40 1030.36,218.78 1031.62,215.20 1032.88,211.66 1034.14,208.15 1035.40,204.67 1036.66,201.23 1037.92,197.83 1039.18,194.47 1040.44,191.13 1041.70,187.84 1042.96,184.58 1044.22,181.35 1045.48,178.16 1046.74,175.01 1048.00,171.89 1049.26,168.81 1050.52,165.77 1051.78,162.76 1053.04,159.78 1054.30,156.84 1055.56,153.94 1056.82,151.07 1058.08,148.24 1059.34,145.44 1060.60,142.68 1061.86,139.96 1063.12,137.27 1064.38,134.62 1065.64,132.00 1066.90,129.41 1068.16,126.87 1069.42,124.36 1070.68,121.88 1071.94,119.44 1073.20,117.04 1074.46,114.67 1075.72,112.34 1076.98,110.04 1078.24,107.78 1079.51,105.55 1080.77,103.36 1082.03,101.21 1083.29,99.09 1084.55,97.00 1085.81,94.96 1087.07,92.94 1088.33,90.97 1089.59,89.03 1090.85,87.12 1092.11,85.25 1093.37,83.42 1094.63,81.62 1095.89,79.86 1097.15,78.13 1098.41,76.44 1099.67,74.78 1100.93,73.16 1102.19,71.58 1103.45,70.03 1104.71,68.52 1105.97,67.04 1107.23,65.60 1108.49,64.19 1109.75,62.82 1111.01,61.48 1112.27,60.18 1113.53,58.92 1114.79,57.69 1116.05,56.50 1117.31,55.34 1118.57,54.22 1119.83,53.13 1121.09,52.08 1122.35,51.07 1123.61,50.09 1124.87,49.15 1126.13,48.24 1127.39,47.37 1128.65,46.53 1129.91,45.73 1131.17,44.96 1132.43,44.23 1133.69,43.54 1134.95,42.88 1136.21,42.26 1137.47,41.67 1138.73,41.12 1139.99,40.60 1141.25,40.12 1142.51,39.68 1143.77,39.27 1145.03,38.89 1146.29,38.56 1147.55,38.25 1148.81,37.99 1150.07,37.75 1151.33,37.56 1152.59,37.40 1153.85,37.27 1155.11,37.18 1156.37,37.13 1157.63,37.11 1158.90,37.13 1160.16,37.18 1161.42,37.27 1162.68,37.40 1163.94,37.56 1165.20,37.75 1166.46,37.99 1167.72,38.25 1168.98,38.56 1170.24,38.89 1171.50,39.27 1172.76,39.68 1174.02,40.12 1175.28,40.60 1176.54,41.12 1177.80,41.67 1179.06,42.26 1180.32,42.88 1181.58,43.54 1182.84,44.23 1184.10,44.96 1185.36,45.73 1186.62,46.53 1187.88,47.37 1189.14,48.24 1190.40,49.15 1191.66,50.09 1192.92,51.07 1194.18,52.08 1195.44,53.13 1196.70,54.22 1197.96,55.34 1199.22,56.50 1200.48,57.69 1201.74,58.92 1203.00,60.18 1204.26,61.48 1205.52,62.82 1206.78,64.19 1208.04,65.60 1209.30,67.04 1210.56,68.52 1211.82,70.03 1213.08,71.58 1214.34,73.16 1215.60,74.78 1216.86,76.44 1218.12,78.13 1219.38,79.86 1220.64,81.62 1221.90,83.42 1223.16,85.25 1224.42,87.12 1225.68,89.03 1226.94,90.97 1228.20,92.94 1229.46,94.96 1230.72,97.00 1231.98,99.09 1233.24,101.21 1234.50,103.36 1235.76,105.55 1237.03,107.78 1238.29,110.04 1239.55,112.34 1240.81,114.67 1242.07,117.04 1243.33,119.44 1244.59,121.88 1245.85,124.36 1247.11,126.87 1248.37,129.41 1249.63,132.00 1250.89,134.62 1252.15,137.27 1253.41,139.96 1254.67,142.68 1255.93,145.44 1257.19,148.24 1258.45,151.07 1259.71,153.94 1260.97,156.84 1262.23,159.78 1263.49,162.76 1264.75,165.77 1266.01,168.81 1267.27,171.89 1268.53,175.01 1269.79,178.16 1271.05,181.35 1272.31,184.58 1273.57,187.84 1274.83,191.13 1276.09,194.47 1277.35,197.83 1278.61,201.23 1279.87,204.67 1281.13,208.15 1282.39,211.66 1283.65,215.20 1284.91,218.78 1286.17,222.40 1287.43,226.05 1288.69,229.74 1289.95,233.47 1291.21,237.23 1292.47,241.02 1293.73,244.85 1294.99,248.72 1296.25,252.62 1297.51,256.56 1298.77,260.53 1300.03,264.54 1301.29,268.59 1302.55,272.67 1303.81,276.79 1305.07,280.94 1306.33,285.13 1307.59,289.35 1308.85,293.61 1310.11,297.91 1311.37,302.24 1312.63,306.61 1313.89,311.01 1315.15,315.45 1316.42,319.92 1317.68,324.43 1318.94,328.98 1320.20,333.56 1321.46,338.18 1322.72,342.83 1323.98,347.52 1325.24,352.24 1326.50,357.00 1327.76,361.80 1329.02,366.63 1330.28,371.50 1331.54,376.40 1332.80,381.34 1334.06,386.32 1335.32,391.33 1336.58,396.38 1337.84,401.46 1339.10,406.58 1340.36,411.73 1341.62,416.92 1342.88,422.15 1344.14,427.41 1345.40,432.70 1346.66,438.04 1347.92,443.41 1349.18,448.81 1350.44,454.25 1351.70,459.73 1352.96,465.24 1354.22,470.79 1355.48,476.37 1356.74,481.99 1358.00,487.65 1359.26,493.34 1360.52,499.06 1361.78,504.83 1363.04,510.62 1364.30,516.46 1365.56,522.33 1366.82,528.24 1368.08,534.18 1369.34,540.16 1370.60,546.17 1371.86,552.22 1373.12,558.30 1374.38,564.42 1375.64,570.58 1376.90,576.77 1378.16,583.00 1379.42,589.27 1380.68,595.57 1381.94,601.91 1383.20,608.28 1384.46,614.69 1385.72,621.13 1386.98,627.61 1388.24,634.13 1389.50,640.68 1390.76,647.26 1392.02,653.89 1393.28,660.55 1394.54,667.24 1395.81,673.97 1397.07,680.74 1398.33,687.54 1399.59,694.38 1400.85,701.26 1402.11,708.17 1403.37,715.11 1404.63,722.10 1405.89,729.12 1407.15,736.17 1408.41,743.26 1409.67,750.39" fill="none" stroke="#000" stroke-width="2.5" stroke-dasharray="2.450 3.271" stroke-dashoffset="0" stroke-linejoin="round"/>
<rect x="880.4" y="1.67" width="554.47" height="784.37" fill="none" stroke="#000" stroke-width="1.72"/>
<line x1="905.6" x2="905.6" y1="786.04" y2="793.59" stroke="#000" stroke-width="1.72"/>
<text x="905.6" y="827.8" text-anchor="middle" class="tk">−1.0</text>
<line x1="1031.62" x2="1031.62" y1="786.04" y2="793.59" stroke="#000" stroke-width="1.72"/>
<text x="1031.62" y="827.8" text-anchor="middle" class="tk">−0.5</text>
<line x1="1157.63" x2="1157.63" y1="786.04" y2="793.59" stroke="#000" stroke-width="1.72"/>
<text x="1157.63" y="827.8" text-anchor="middle" class="tk">0</text>
<line x1="1283.65" x2="1283.65" y1="786.04" y2="793.59" stroke="#000" stroke-width="1.72"/>
<text x="1283.65" y="827.8" text-anchor="middle" class="tk">0.5</text>
<line x1="1409.67" x2="1409.67" y1="786.04" y2="793.59" stroke="#000" stroke-width="1.72"/>
<text x="1409.67" y="827.8" text-anchor="middle" class="tk">1.0</text>
<line x1="872.85" x2="880.4" y1="750.8" y2="750.8" stroke="#000" stroke-width="1.72"/>
<text x="865.40" y="763.90" text-anchor="end" class="tk">0.00</text>
<line x1="872.85" x2="880.4" y1="571.0" y2="571.0" stroke="#000" stroke-width="1.72"/>
<text x="865.40" y="584.10" text-anchor="end" class="tk">0.25</text>
<line x1="872.85" x2="880.4" y1="391.2" y2="391.2" stroke="#000" stroke-width="1.72"/>
<text x="865.40" y="404.30" text-anchor="end" class="tk">0.50</text>
<line x1="872.85" x2="880.4" y1="211.4" y2="211.4" stroke="#000" stroke-width="1.72"/>
<text x="865.40" y="224.50" text-anchor="end" class="tk">0.75</text>
<line x1="872.85" x2="880.4" y1="31.6" y2="31.6" stroke="#000" stroke-width="1.72"/>
<text x="865.40" y="44.70" text-anchor="end" class="tk">1.00</text>
<text transform="translate(1147.75,872.6) scale(0.845,1)" class="lb it" style="font-size:40.4px">y</text>
<text transform="translate(765.00,424) rotate(-90) scale(0.87,1)" class="lb"><tspan class="it" x="-1.15" dy="-0.20" style="font-size:38.8px">u</tspan><tspan class="" x="24.77" dy="-0.10" style="font-size:39.5px">(</tspan><tspan class="it" x="38.16" dy="0.30" style="font-size:40.2px">y</tspan><tspan class="" x="59.37" dy="-0.30" style="font-size:39.5px">)</tspan></text>
<text y="651.5" class="an"><tspan class="it tt" x="1105.45" dy="0.7">t</tspan><tspan x="1122.03" dy="-0.7"> = 10</tspan></text>
<text y="451.5" class="an"><tspan class="it tt" x="1105.45" dy="0.7">t</tspan><tspan x="1122.03" dy="-0.7"> = 30</tspan></text>
<text y="272.85" class="an"><tspan class="it tt" x="1105.45" dy="0.7">t</tspan><tspan x="1122.03" dy="-0.7"> = 60</tspan></text>
<text y="102.9" class="an"><tspan class="it tt" x="1094.45" dy="0.7">t</tspan><tspan x="1111.03" dy="-0.7"> = 200</tspan></text>
</g>
</svg>
</body></html>
